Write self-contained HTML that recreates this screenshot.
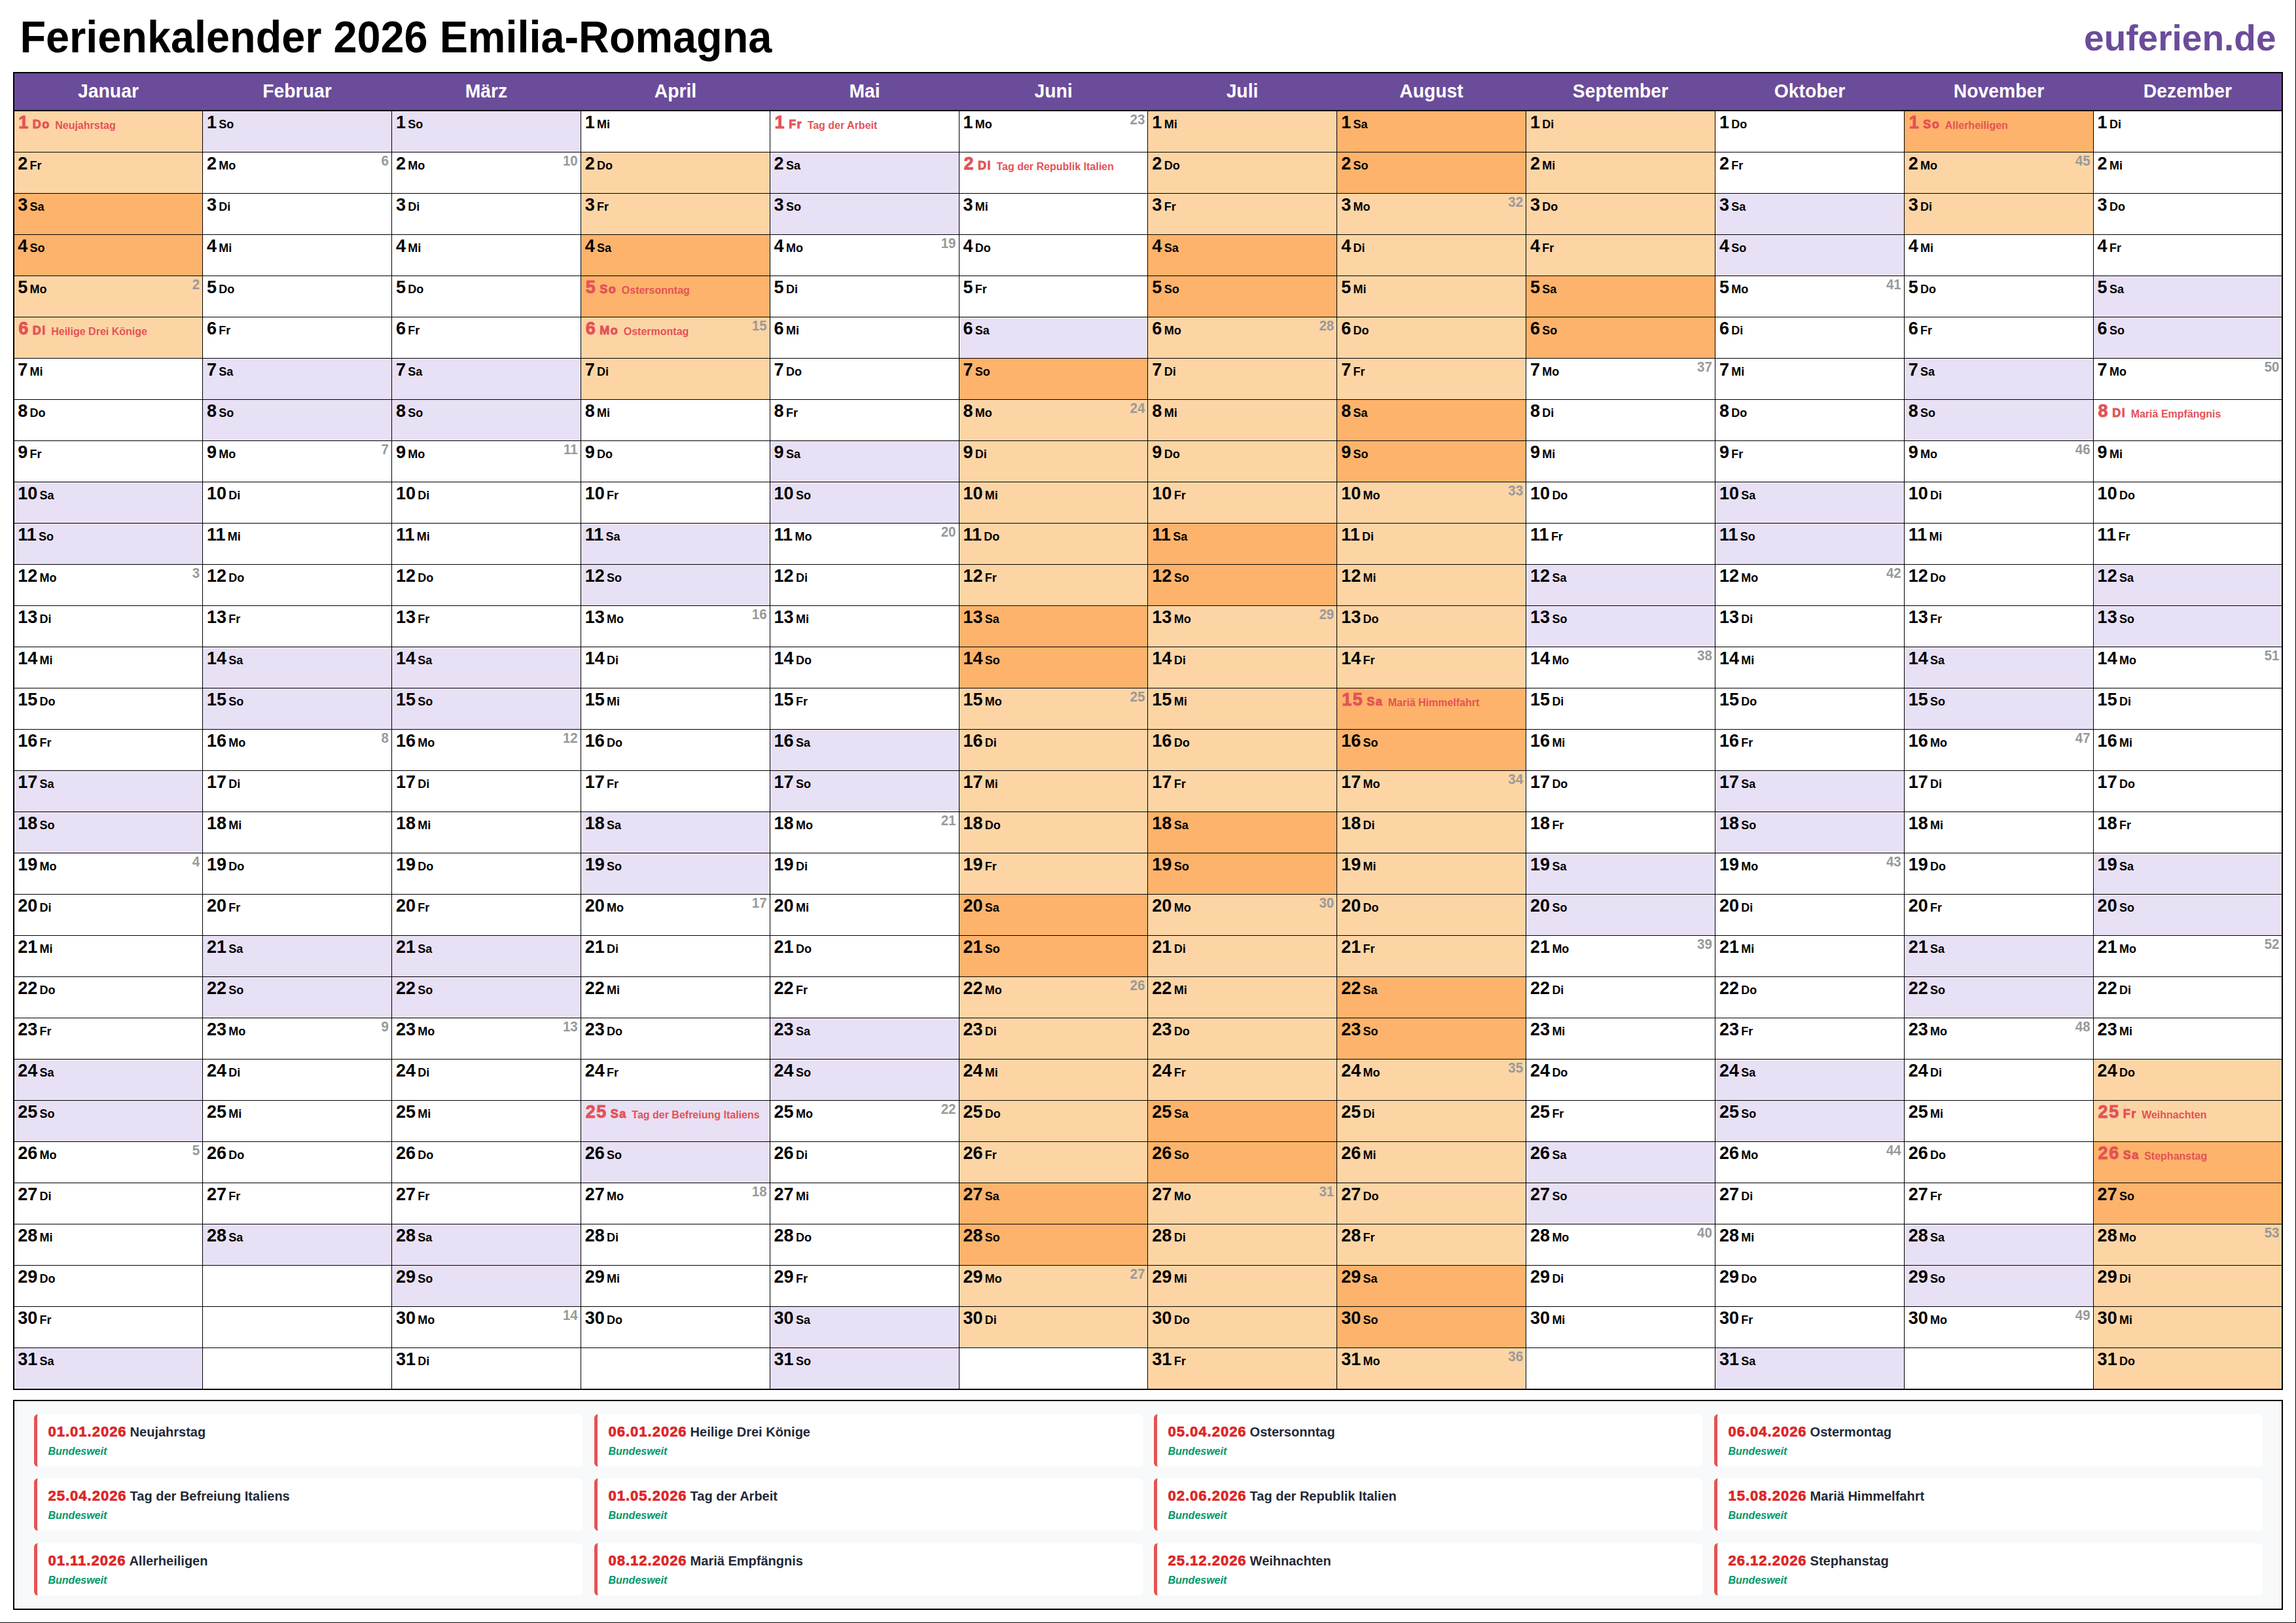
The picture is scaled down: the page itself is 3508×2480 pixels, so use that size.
<!DOCTYPE html><html><head><meta charset="utf-8"><title>Ferienkalender 2026 Emilia-Romagna</title><style>
*{margin:0;padding:0;box-sizing:border-box}
html,body{width:3508px;height:2480px;overflow:hidden;background:#fff;font-family:"Liberation Sans",sans-serif;font-weight:bold}
body{position:relative}
.a{position:absolute}
.t{position:absolute;white-space:nowrap;line-height:0}
.c{position:absolute;height:62px}
.r{font-size:27px}
.w{font-size:18px}
.h{color:#e45256}
.h .r,.h .w{-webkit-text-stroke:0.9px #e45256;letter-spacing:1.5px}
.hn{font-size:16px;position:relative;top:0.2px}
.k{position:absolute;white-space:nowrap;line-height:0;font-size:20.5px;color:#999999;transform:scaleY(1.06);transform-origin:50% 7.103px}
.m{position:absolute;white-space:nowrap;line-height:0;font-size:28.3px;color:#fff;text-align:center;transform:scaleY(1.055);transform-origin:50% 9.806px}
.lg{position:absolute;left:20px;top:2139px;width:3468px;height:321px;border:2px solid #000;background:#f8f9fa}
.cd{position:absolute;width:838px;height:80px;background:#fff;border-left:5.5px solid #e55353;border-radius:6px}
.cd .dt{position:absolute;left:16.5px;white-space:nowrap;line-height:0;font-size:22px}
.cd .dt b{color:#dc2626;letter-spacing:1px;-webkit-text-stroke:0.7px #dc2626}
.cd .dt i{font-style:normal;color:#1f2937;font-size:20px;margin-left:5px}
.cd .bw{position:absolute;left:16.5px;line-height:0;font-size:16px;font-style:italic;color:#059669;white-space:nowrap}

</style></head><body>
<div class="t" style="left:30.5px;top:57.35px;font-size:64.8px;color:#000;transform:scaleY(1.049);transform-origin:0 0">Ferienkalender 2026 Emilia-Romagna</div>
<div class="t" style="right:30.5px;top:57.94px;font-size:55px;color:#6b4c9a">euferien.de</div>
<div class="a" style="left:20px;top:110px;width:3468px;height:2014px;background:#000"></div>
<div class="a" style="left:22px;top:112px;width:3464px;height:56px;background:#6b4c9a"></div>
<div class="m" style="left:22px;width:287px;top:139.19px">Januar</div>
<div class="c" style="left:22px;top:170px;width:287px;background:#fdd5a5">
<div class="t h" style="left:6.16px;top:17.44px"><span class="r">1</span><span class="w" style="margin-left:5px">Do</span><span class="hn" style="margin-left:7.5px">Neujahrstag</span></div>
</div>
<div class="c" style="left:22px;top:233px;width:287px;background:#fdd5a5">
<div class="t" style="left:5.16px;top:16.64px"><span class="r">2</span><span class="w" style="margin-left:3.3px">Fr</span></div>
</div>
<div class="c" style="left:22px;top:296px;width:287px;background:#fdb36b">
<div class="t" style="left:5.16px;top:16.64px"><span class="r">3</span><span class="w" style="margin-left:3.3px">Sa</span></div>
</div>
<div class="c" style="left:22px;top:359px;width:287px;background:#fdb36b">
<div class="t" style="left:5.16px;top:16.64px"><span class="r">4</span><span class="w" style="margin-left:3.3px">So</span></div>
</div>
<div class="c" style="left:22px;top:422px;width:287px;background:#fdd5a5">
<div class="t" style="left:5.16px;top:16.64px"><span class="r">5</span><span class="w" style="margin-left:3.3px">Mo</span></div>
<div class="k" style="right:3.97px;top:12.9px">2</div>
</div>
<div class="c" style="left:22px;top:485px;width:287px;background:#fdd5a5">
<div class="t h" style="left:6.16px;top:17.44px"><span class="r">6</span><span class="w" style="margin-left:5px">Di</span><span class="hn" style="margin-left:7.5px">Heilige Drei Könige</span></div>
</div>
<div class="c" style="left:22px;top:548px;width:287px;background:#fff">
<div class="t" style="left:5.16px;top:16.64px"><span class="r">7</span><span class="w" style="margin-left:3.3px">Mi</span></div>
</div>
<div class="c" style="left:22px;top:611px;width:287px;background:#fff">
<div class="t" style="left:5.16px;top:16.64px"><span class="r">8</span><span class="w" style="margin-left:3.3px">Do</span></div>
</div>
<div class="c" style="left:22px;top:674px;width:287px;background:#fff">
<div class="t" style="left:5.16px;top:16.64px"><span class="r">9</span><span class="w" style="margin-left:3.3px">Fr</span></div>
</div>
<div class="c" style="left:22px;top:737px;width:287px;background:#e8e0f4">
<div class="t" style="left:5.16px;top:16.64px"><span class="r">10</span><span class="w" style="margin-left:3.3px">Sa</span></div>
</div>
<div class="c" style="left:22px;top:800px;width:287px;background:#e8e0f4">
<div class="t" style="left:5.16px;top:16.64px"><span class="r">11</span><span class="w" style="margin-left:3.3px">So</span></div>
</div>
<div class="c" style="left:22px;top:863px;width:287px;background:#fff">
<div class="t" style="left:5.16px;top:16.64px"><span class="r">12</span><span class="w" style="margin-left:3.3px">Mo</span></div>
<div class="k" style="right:3.97px;top:12.9px">3</div>
</div>
<div class="c" style="left:22px;top:926px;width:287px;background:#fff">
<div class="t" style="left:5.16px;top:16.64px"><span class="r">13</span><span class="w" style="margin-left:3.3px">Di</span></div>
</div>
<div class="c" style="left:22px;top:989px;width:287px;background:#fff">
<div class="t" style="left:5.16px;top:16.64px"><span class="r">14</span><span class="w" style="margin-left:3.3px">Mi</span></div>
</div>
<div class="c" style="left:22px;top:1052px;width:287px;background:#fff">
<div class="t" style="left:5.16px;top:16.64px"><span class="r">15</span><span class="w" style="margin-left:3.3px">Do</span></div>
</div>
<div class="c" style="left:22px;top:1115px;width:287px;background:#fff">
<div class="t" style="left:5.16px;top:16.64px"><span class="r">16</span><span class="w" style="margin-left:3.3px">Fr</span></div>
</div>
<div class="c" style="left:22px;top:1178px;width:287px;background:#e8e0f4">
<div class="t" style="left:5.16px;top:16.64px"><span class="r">17</span><span class="w" style="margin-left:3.3px">Sa</span></div>
</div>
<div class="c" style="left:22px;top:1241px;width:287px;background:#e8e0f4">
<div class="t" style="left:5.16px;top:16.64px"><span class="r">18</span><span class="w" style="margin-left:3.3px">So</span></div>
</div>
<div class="c" style="left:22px;top:1304px;width:287px;background:#fff">
<div class="t" style="left:5.16px;top:16.64px"><span class="r">19</span><span class="w" style="margin-left:3.3px">Mo</span></div>
<div class="k" style="right:3.97px;top:12.9px">4</div>
</div>
<div class="c" style="left:22px;top:1367px;width:287px;background:#fff">
<div class="t" style="left:5.16px;top:16.64px"><span class="r">20</span><span class="w" style="margin-left:3.3px">Di</span></div>
</div>
<div class="c" style="left:22px;top:1430px;width:287px;background:#fff">
<div class="t" style="left:5.16px;top:16.64px"><span class="r">21</span><span class="w" style="margin-left:3.3px">Mi</span></div>
</div>
<div class="c" style="left:22px;top:1493px;width:287px;background:#fff">
<div class="t" style="left:5.16px;top:16.64px"><span class="r">22</span><span class="w" style="margin-left:3.3px">Do</span></div>
</div>
<div class="c" style="left:22px;top:1556px;width:287px;background:#fff">
<div class="t" style="left:5.16px;top:16.64px"><span class="r">23</span><span class="w" style="margin-left:3.3px">Fr</span></div>
</div>
<div class="c" style="left:22px;top:1619px;width:287px;background:#e8e0f4">
<div class="t" style="left:5.16px;top:16.64px"><span class="r">24</span><span class="w" style="margin-left:3.3px">Sa</span></div>
</div>
<div class="c" style="left:22px;top:1682px;width:287px;background:#e8e0f4">
<div class="t" style="left:5.16px;top:16.64px"><span class="r">25</span><span class="w" style="margin-left:3.3px">So</span></div>
</div>
<div class="c" style="left:22px;top:1745px;width:287px;background:#fff">
<div class="t" style="left:5.16px;top:16.64px"><span class="r">26</span><span class="w" style="margin-left:3.3px">Mo</span></div>
<div class="k" style="right:3.97px;top:12.9px">5</div>
</div>
<div class="c" style="left:22px;top:1808px;width:287px;background:#fff">
<div class="t" style="left:5.16px;top:16.64px"><span class="r">27</span><span class="w" style="margin-left:3.3px">Di</span></div>
</div>
<div class="c" style="left:22px;top:1871px;width:287px;background:#fff">
<div class="t" style="left:5.16px;top:16.64px"><span class="r">28</span><span class="w" style="margin-left:3.3px">Mi</span></div>
</div>
<div class="c" style="left:22px;top:1934px;width:287px;background:#fff">
<div class="t" style="left:5.16px;top:16.64px"><span class="r">29</span><span class="w" style="margin-left:3.3px">Do</span></div>
</div>
<div class="c" style="left:22px;top:1997px;width:287px;background:#fff">
<div class="t" style="left:5.16px;top:16.64px"><span class="r">30</span><span class="w" style="margin-left:3.3px">Fr</span></div>
</div>
<div class="c" style="left:22px;top:2060px;width:287px;background:#e8e0f4">
<div class="t" style="left:5.16px;top:16.64px"><span class="r">31</span><span class="w" style="margin-left:3.3px">Sa</span></div>
</div>
<div class="m" style="left:310px;width:288px;top:139.19px">Februar</div>
<div class="c" style="left:310px;top:170px;width:288px;background:#e8e0f4">
<div class="t" style="left:6.02px;top:16.64px"><span class="r">1</span><span class="w" style="margin-left:3.3px">So</span></div>
</div>
<div class="c" style="left:310px;top:233px;width:288px;background:#fff">
<div class="t" style="left:6.02px;top:16.64px"><span class="r">2</span><span class="w" style="margin-left:3.3px">Mo</span></div>
<div class="k" style="right:4.11px;top:12.9px">6</div>
</div>
<div class="c" style="left:310px;top:296px;width:288px;background:#fff">
<div class="t" style="left:6.02px;top:16.64px"><span class="r">3</span><span class="w" style="margin-left:3.3px">Di</span></div>
</div>
<div class="c" style="left:310px;top:359px;width:288px;background:#fff">
<div class="t" style="left:6.02px;top:16.64px"><span class="r">4</span><span class="w" style="margin-left:3.3px">Mi</span></div>
</div>
<div class="c" style="left:310px;top:422px;width:288px;background:#fff">
<div class="t" style="left:6.02px;top:16.64px"><span class="r">5</span><span class="w" style="margin-left:3.3px">Do</span></div>
</div>
<div class="c" style="left:310px;top:485px;width:288px;background:#fff">
<div class="t" style="left:6.02px;top:16.64px"><span class="r">6</span><span class="w" style="margin-left:3.3px">Fr</span></div>
</div>
<div class="c" style="left:310px;top:548px;width:288px;background:#e8e0f4">
<div class="t" style="left:6.02px;top:16.64px"><span class="r">7</span><span class="w" style="margin-left:3.3px">Sa</span></div>
</div>
<div class="c" style="left:310px;top:611px;width:288px;background:#e8e0f4">
<div class="t" style="left:6.02px;top:16.64px"><span class="r">8</span><span class="w" style="margin-left:3.3px">So</span></div>
</div>
<div class="c" style="left:310px;top:674px;width:288px;background:#fff">
<div class="t" style="left:6.02px;top:16.64px"><span class="r">9</span><span class="w" style="margin-left:3.3px">Mo</span></div>
<div class="k" style="right:4.11px;top:12.9px">7</div>
</div>
<div class="c" style="left:310px;top:737px;width:288px;background:#fff">
<div class="t" style="left:6.02px;top:16.64px"><span class="r">10</span><span class="w" style="margin-left:3.3px">Di</span></div>
</div>
<div class="c" style="left:310px;top:800px;width:288px;background:#fff">
<div class="t" style="left:6.02px;top:16.64px"><span class="r">11</span><span class="w" style="margin-left:3.3px">Mi</span></div>
</div>
<div class="c" style="left:310px;top:863px;width:288px;background:#fff">
<div class="t" style="left:6.02px;top:16.64px"><span class="r">12</span><span class="w" style="margin-left:3.3px">Do</span></div>
</div>
<div class="c" style="left:310px;top:926px;width:288px;background:#fff">
<div class="t" style="left:6.02px;top:16.64px"><span class="r">13</span><span class="w" style="margin-left:3.3px">Fr</span></div>
</div>
<div class="c" style="left:310px;top:989px;width:288px;background:#e8e0f4">
<div class="t" style="left:6.02px;top:16.64px"><span class="r">14</span><span class="w" style="margin-left:3.3px">Sa</span></div>
</div>
<div class="c" style="left:310px;top:1052px;width:288px;background:#e8e0f4">
<div class="t" style="left:6.02px;top:16.64px"><span class="r">15</span><span class="w" style="margin-left:3.3px">So</span></div>
</div>
<div class="c" style="left:310px;top:1115px;width:288px;background:#fff">
<div class="t" style="left:6.02px;top:16.64px"><span class="r">16</span><span class="w" style="margin-left:3.3px">Mo</span></div>
<div class="k" style="right:4.11px;top:12.9px">8</div>
</div>
<div class="c" style="left:310px;top:1178px;width:288px;background:#fff">
<div class="t" style="left:6.02px;top:16.64px"><span class="r">17</span><span class="w" style="margin-left:3.3px">Di</span></div>
</div>
<div class="c" style="left:310px;top:1241px;width:288px;background:#fff">
<div class="t" style="left:6.02px;top:16.64px"><span class="r">18</span><span class="w" style="margin-left:3.3px">Mi</span></div>
</div>
<div class="c" style="left:310px;top:1304px;width:288px;background:#fff">
<div class="t" style="left:6.02px;top:16.64px"><span class="r">19</span><span class="w" style="margin-left:3.3px">Do</span></div>
</div>
<div class="c" style="left:310px;top:1367px;width:288px;background:#fff">
<div class="t" style="left:6.02px;top:16.64px"><span class="r">20</span><span class="w" style="margin-left:3.3px">Fr</span></div>
</div>
<div class="c" style="left:310px;top:1430px;width:288px;background:#e8e0f4">
<div class="t" style="left:6.02px;top:16.64px"><span class="r">21</span><span class="w" style="margin-left:3.3px">Sa</span></div>
</div>
<div class="c" style="left:310px;top:1493px;width:288px;background:#e8e0f4">
<div class="t" style="left:6.02px;top:16.64px"><span class="r">22</span><span class="w" style="margin-left:3.3px">So</span></div>
</div>
<div class="c" style="left:310px;top:1556px;width:288px;background:#fff">
<div class="t" style="left:6.02px;top:16.64px"><span class="r">23</span><span class="w" style="margin-left:3.3px">Mo</span></div>
<div class="k" style="right:4.11px;top:12.9px">9</div>
</div>
<div class="c" style="left:310px;top:1619px;width:288px;background:#fff">
<div class="t" style="left:6.02px;top:16.64px"><span class="r">24</span><span class="w" style="margin-left:3.3px">Di</span></div>
</div>
<div class="c" style="left:310px;top:1682px;width:288px;background:#fff">
<div class="t" style="left:6.02px;top:16.64px"><span class="r">25</span><span class="w" style="margin-left:3.3px">Mi</span></div>
</div>
<div class="c" style="left:310px;top:1745px;width:288px;background:#fff">
<div class="t" style="left:6.02px;top:16.64px"><span class="r">26</span><span class="w" style="margin-left:3.3px">Do</span></div>
</div>
<div class="c" style="left:310px;top:1808px;width:288px;background:#fff">
<div class="t" style="left:6.02px;top:16.64px"><span class="r">27</span><span class="w" style="margin-left:3.3px">Fr</span></div>
</div>
<div class="c" style="left:310px;top:1871px;width:288px;background:#e8e0f4">
<div class="t" style="left:6.02px;top:16.64px"><span class="r">28</span><span class="w" style="margin-left:3.3px">Sa</span></div>
</div>
<div class="c" style="left:310px;top:1934px;width:288px;background:#fff">
</div>
<div class="c" style="left:310px;top:1997px;width:288px;background:#fff">
</div>
<div class="c" style="left:310px;top:2060px;width:288px;background:#fff">
</div>
<div class="m" style="left:599px;width:288px;top:139.19px">März</div>
<div class="c" style="left:599px;top:170px;width:288px;background:#e8e0f4">
<div class="t" style="left:5.88px;top:16.64px"><span class="r">1</span><span class="w" style="margin-left:3.3px">So</span></div>
</div>
<div class="c" style="left:599px;top:233px;width:288px;background:#fff">
<div class="t" style="left:5.88px;top:16.64px"><span class="r">2</span><span class="w" style="margin-left:3.3px">Mo</span></div>
<div class="k" style="right:4.25px;top:12.9px">10</div>
</div>
<div class="c" style="left:599px;top:296px;width:288px;background:#fff">
<div class="t" style="left:5.88px;top:16.64px"><span class="r">3</span><span class="w" style="margin-left:3.3px">Di</span></div>
</div>
<div class="c" style="left:599px;top:359px;width:288px;background:#fff">
<div class="t" style="left:5.88px;top:16.64px"><span class="r">4</span><span class="w" style="margin-left:3.3px">Mi</span></div>
</div>
<div class="c" style="left:599px;top:422px;width:288px;background:#fff">
<div class="t" style="left:5.88px;top:16.64px"><span class="r">5</span><span class="w" style="margin-left:3.3px">Do</span></div>
</div>
<div class="c" style="left:599px;top:485px;width:288px;background:#fff">
<div class="t" style="left:5.88px;top:16.64px"><span class="r">6</span><span class="w" style="margin-left:3.3px">Fr</span></div>
</div>
<div class="c" style="left:599px;top:548px;width:288px;background:#e8e0f4">
<div class="t" style="left:5.88px;top:16.64px"><span class="r">7</span><span class="w" style="margin-left:3.3px">Sa</span></div>
</div>
<div class="c" style="left:599px;top:611px;width:288px;background:#e8e0f4">
<div class="t" style="left:5.88px;top:16.64px"><span class="r">8</span><span class="w" style="margin-left:3.3px">So</span></div>
</div>
<div class="c" style="left:599px;top:674px;width:288px;background:#fff">
<div class="t" style="left:5.88px;top:16.64px"><span class="r">9</span><span class="w" style="margin-left:3.3px">Mo</span></div>
<div class="k" style="right:4.25px;top:12.9px">11</div>
</div>
<div class="c" style="left:599px;top:737px;width:288px;background:#fff">
<div class="t" style="left:5.88px;top:16.64px"><span class="r">10</span><span class="w" style="margin-left:3.3px">Di</span></div>
</div>
<div class="c" style="left:599px;top:800px;width:288px;background:#fff">
<div class="t" style="left:5.88px;top:16.64px"><span class="r">11</span><span class="w" style="margin-left:3.3px">Mi</span></div>
</div>
<div class="c" style="left:599px;top:863px;width:288px;background:#fff">
<div class="t" style="left:5.88px;top:16.64px"><span class="r">12</span><span class="w" style="margin-left:3.3px">Do</span></div>
</div>
<div class="c" style="left:599px;top:926px;width:288px;background:#fff">
<div class="t" style="left:5.88px;top:16.64px"><span class="r">13</span><span class="w" style="margin-left:3.3px">Fr</span></div>
</div>
<div class="c" style="left:599px;top:989px;width:288px;background:#e8e0f4">
<div class="t" style="left:5.88px;top:16.64px"><span class="r">14</span><span class="w" style="margin-left:3.3px">Sa</span></div>
</div>
<div class="c" style="left:599px;top:1052px;width:288px;background:#e8e0f4">
<div class="t" style="left:5.88px;top:16.64px"><span class="r">15</span><span class="w" style="margin-left:3.3px">So</span></div>
</div>
<div class="c" style="left:599px;top:1115px;width:288px;background:#fff">
<div class="t" style="left:5.88px;top:16.64px"><span class="r">16</span><span class="w" style="margin-left:3.3px">Mo</span></div>
<div class="k" style="right:4.25px;top:12.9px">12</div>
</div>
<div class="c" style="left:599px;top:1178px;width:288px;background:#fff">
<div class="t" style="left:5.88px;top:16.64px"><span class="r">17</span><span class="w" style="margin-left:3.3px">Di</span></div>
</div>
<div class="c" style="left:599px;top:1241px;width:288px;background:#fff">
<div class="t" style="left:5.88px;top:16.64px"><span class="r">18</span><span class="w" style="margin-left:3.3px">Mi</span></div>
</div>
<div class="c" style="left:599px;top:1304px;width:288px;background:#fff">
<div class="t" style="left:5.88px;top:16.64px"><span class="r">19</span><span class="w" style="margin-left:3.3px">Do</span></div>
</div>
<div class="c" style="left:599px;top:1367px;width:288px;background:#fff">
<div class="t" style="left:5.88px;top:16.64px"><span class="r">20</span><span class="w" style="margin-left:3.3px">Fr</span></div>
</div>
<div class="c" style="left:599px;top:1430px;width:288px;background:#e8e0f4">
<div class="t" style="left:5.88px;top:16.64px"><span class="r">21</span><span class="w" style="margin-left:3.3px">Sa</span></div>
</div>
<div class="c" style="left:599px;top:1493px;width:288px;background:#e8e0f4">
<div class="t" style="left:5.88px;top:16.64px"><span class="r">22</span><span class="w" style="margin-left:3.3px">So</span></div>
</div>
<div class="c" style="left:599px;top:1556px;width:288px;background:#fff">
<div class="t" style="left:5.88px;top:16.64px"><span class="r">23</span><span class="w" style="margin-left:3.3px">Mo</span></div>
<div class="k" style="right:4.25px;top:12.9px">13</div>
</div>
<div class="c" style="left:599px;top:1619px;width:288px;background:#fff">
<div class="t" style="left:5.88px;top:16.64px"><span class="r">24</span><span class="w" style="margin-left:3.3px">Di</span></div>
</div>
<div class="c" style="left:599px;top:1682px;width:288px;background:#fff">
<div class="t" style="left:5.88px;top:16.64px"><span class="r">25</span><span class="w" style="margin-left:3.3px">Mi</span></div>
</div>
<div class="c" style="left:599px;top:1745px;width:288px;background:#fff">
<div class="t" style="left:5.88px;top:16.64px"><span class="r">26</span><span class="w" style="margin-left:3.3px">Do</span></div>
</div>
<div class="c" style="left:599px;top:1808px;width:288px;background:#fff">
<div class="t" style="left:5.88px;top:16.64px"><span class="r">27</span><span class="w" style="margin-left:3.3px">Fr</span></div>
</div>
<div class="c" style="left:599px;top:1871px;width:288px;background:#e8e0f4">
<div class="t" style="left:5.88px;top:16.64px"><span class="r">28</span><span class="w" style="margin-left:3.3px">Sa</span></div>
</div>
<div class="c" style="left:599px;top:1934px;width:288px;background:#e8e0f4">
<div class="t" style="left:5.88px;top:16.64px"><span class="r">29</span><span class="w" style="margin-left:3.3px">So</span></div>
</div>
<div class="c" style="left:599px;top:1997px;width:288px;background:#fff">
<div class="t" style="left:5.88px;top:16.64px"><span class="r">30</span><span class="w" style="margin-left:3.3px">Mo</span></div>
<div class="k" style="right:4.25px;top:12.9px">14</div>
</div>
<div class="c" style="left:599px;top:2060px;width:288px;background:#fff">
<div class="t" style="left:5.88px;top:16.64px"><span class="r">31</span><span class="w" style="margin-left:3.3px">Di</span></div>
</div>
<div class="m" style="left:888px;width:288px;top:139.19px">April</div>
<div class="c" style="left:888px;top:170px;width:288px;background:#fff">
<div class="t" style="left:5.74px;top:16.64px"><span class="r">1</span><span class="w" style="margin-left:3.3px">Mi</span></div>
</div>
<div class="c" style="left:888px;top:233px;width:288px;background:#fdd5a5">
<div class="t" style="left:5.74px;top:16.64px"><span class="r">2</span><span class="w" style="margin-left:3.3px">Do</span></div>
</div>
<div class="c" style="left:888px;top:296px;width:288px;background:#fdd5a5">
<div class="t" style="left:5.74px;top:16.64px"><span class="r">3</span><span class="w" style="margin-left:3.3px">Fr</span></div>
</div>
<div class="c" style="left:888px;top:359px;width:288px;background:#fdb36b">
<div class="t" style="left:5.74px;top:16.64px"><span class="r">4</span><span class="w" style="margin-left:3.3px">Sa</span></div>
</div>
<div class="c" style="left:888px;top:422px;width:288px;background:#fdb36b">
<div class="t h" style="left:6.74px;top:17.44px"><span class="r">5</span><span class="w" style="margin-left:5px">So</span><span class="hn" style="margin-left:7.5px">Ostersonntag</span></div>
</div>
<div class="c" style="left:888px;top:485px;width:288px;background:#fdd5a5">
<div class="t h" style="left:6.74px;top:17.44px"><span class="r">6</span><span class="w" style="margin-left:5px">Mo</span><span class="hn" style="margin-left:7.5px">Ostermontag</span></div>
<div class="k" style="right:4.39px;top:12.9px">15</div>
</div>
<div class="c" style="left:888px;top:548px;width:288px;background:#fdd5a5">
<div class="t" style="left:5.74px;top:16.64px"><span class="r">7</span><span class="w" style="margin-left:3.3px">Di</span></div>
</div>
<div class="c" style="left:888px;top:611px;width:288px;background:#fff">
<div class="t" style="left:5.74px;top:16.64px"><span class="r">8</span><span class="w" style="margin-left:3.3px">Mi</span></div>
</div>
<div class="c" style="left:888px;top:674px;width:288px;background:#fff">
<div class="t" style="left:5.74px;top:16.64px"><span class="r">9</span><span class="w" style="margin-left:3.3px">Do</span></div>
</div>
<div class="c" style="left:888px;top:737px;width:288px;background:#fff">
<div class="t" style="left:5.74px;top:16.64px"><span class="r">10</span><span class="w" style="margin-left:3.3px">Fr</span></div>
</div>
<div class="c" style="left:888px;top:800px;width:288px;background:#e8e0f4">
<div class="t" style="left:5.74px;top:16.64px"><span class="r">11</span><span class="w" style="margin-left:3.3px">Sa</span></div>
</div>
<div class="c" style="left:888px;top:863px;width:288px;background:#e8e0f4">
<div class="t" style="left:5.74px;top:16.64px"><span class="r">12</span><span class="w" style="margin-left:3.3px">So</span></div>
</div>
<div class="c" style="left:888px;top:926px;width:288px;background:#fff">
<div class="t" style="left:5.74px;top:16.64px"><span class="r">13</span><span class="w" style="margin-left:3.3px">Mo</span></div>
<div class="k" style="right:4.39px;top:12.9px">16</div>
</div>
<div class="c" style="left:888px;top:989px;width:288px;background:#fff">
<div class="t" style="left:5.74px;top:16.64px"><span class="r">14</span><span class="w" style="margin-left:3.3px">Di</span></div>
</div>
<div class="c" style="left:888px;top:1052px;width:288px;background:#fff">
<div class="t" style="left:5.74px;top:16.64px"><span class="r">15</span><span class="w" style="margin-left:3.3px">Mi</span></div>
</div>
<div class="c" style="left:888px;top:1115px;width:288px;background:#fff">
<div class="t" style="left:5.74px;top:16.64px"><span class="r">16</span><span class="w" style="margin-left:3.3px">Do</span></div>
</div>
<div class="c" style="left:888px;top:1178px;width:288px;background:#fff">
<div class="t" style="left:5.74px;top:16.64px"><span class="r">17</span><span class="w" style="margin-left:3.3px">Fr</span></div>
</div>
<div class="c" style="left:888px;top:1241px;width:288px;background:#e8e0f4">
<div class="t" style="left:5.74px;top:16.64px"><span class="r">18</span><span class="w" style="margin-left:3.3px">Sa</span></div>
</div>
<div class="c" style="left:888px;top:1304px;width:288px;background:#e8e0f4">
<div class="t" style="left:5.74px;top:16.64px"><span class="r">19</span><span class="w" style="margin-left:3.3px">So</span></div>
</div>
<div class="c" style="left:888px;top:1367px;width:288px;background:#fff">
<div class="t" style="left:5.74px;top:16.64px"><span class="r">20</span><span class="w" style="margin-left:3.3px">Mo</span></div>
<div class="k" style="right:4.39px;top:12.9px">17</div>
</div>
<div class="c" style="left:888px;top:1430px;width:288px;background:#fff">
<div class="t" style="left:5.74px;top:16.64px"><span class="r">21</span><span class="w" style="margin-left:3.3px">Di</span></div>
</div>
<div class="c" style="left:888px;top:1493px;width:288px;background:#fff">
<div class="t" style="left:5.74px;top:16.64px"><span class="r">22</span><span class="w" style="margin-left:3.3px">Mi</span></div>
</div>
<div class="c" style="left:888px;top:1556px;width:288px;background:#fff">
<div class="t" style="left:5.74px;top:16.64px"><span class="r">23</span><span class="w" style="margin-left:3.3px">Do</span></div>
</div>
<div class="c" style="left:888px;top:1619px;width:288px;background:#fff">
<div class="t" style="left:5.74px;top:16.64px"><span class="r">24</span><span class="w" style="margin-left:3.3px">Fr</span></div>
</div>
<div class="c" style="left:888px;top:1682px;width:288px;background:#e8e0f4">
<div class="t h" style="left:6.74px;top:17.44px"><span class="r">25</span><span class="w" style="margin-left:5px">Sa</span><span class="hn" style="margin-left:7.5px">Tag der Befreiung Italiens</span></div>
</div>
<div class="c" style="left:888px;top:1745px;width:288px;background:#e8e0f4">
<div class="t" style="left:5.74px;top:16.64px"><span class="r">26</span><span class="w" style="margin-left:3.3px">So</span></div>
</div>
<div class="c" style="left:888px;top:1808px;width:288px;background:#fff">
<div class="t" style="left:5.74px;top:16.64px"><span class="r">27</span><span class="w" style="margin-left:3.3px">Mo</span></div>
<div class="k" style="right:4.39px;top:12.9px">18</div>
</div>
<div class="c" style="left:888px;top:1871px;width:288px;background:#fff">
<div class="t" style="left:5.74px;top:16.64px"><span class="r">28</span><span class="w" style="margin-left:3.3px">Di</span></div>
</div>
<div class="c" style="left:888px;top:1934px;width:288px;background:#fff">
<div class="t" style="left:5.74px;top:16.64px"><span class="r">29</span><span class="w" style="margin-left:3.3px">Mi</span></div>
</div>
<div class="c" style="left:888px;top:1997px;width:288px;background:#fff">
<div class="t" style="left:5.74px;top:16.64px"><span class="r">30</span><span class="w" style="margin-left:3.3px">Do</span></div>
</div>
<div class="c" style="left:888px;top:2060px;width:288px;background:#fff">
</div>
<div class="m" style="left:1177px;width:288px;top:139.19px">Mai</div>
<div class="c" style="left:1177px;top:170px;width:288px;background:#fff">
<div class="t h" style="left:6.6px;top:17.44px"><span class="r">1</span><span class="w" style="margin-left:5px">Fr</span><span class="hn" style="margin-left:7.5px">Tag der Arbeit</span></div>
</div>
<div class="c" style="left:1177px;top:233px;width:288px;background:#e8e0f4">
<div class="t" style="left:5.6px;top:16.64px"><span class="r">2</span><span class="w" style="margin-left:3.3px">Sa</span></div>
</div>
<div class="c" style="left:1177px;top:296px;width:288px;background:#e8e0f4">
<div class="t" style="left:5.6px;top:16.64px"><span class="r">3</span><span class="w" style="margin-left:3.3px">So</span></div>
</div>
<div class="c" style="left:1177px;top:359px;width:288px;background:#fff">
<div class="t" style="left:5.6px;top:16.64px"><span class="r">4</span><span class="w" style="margin-left:3.3px">Mo</span></div>
<div class="k" style="right:4.53px;top:12.9px">19</div>
</div>
<div class="c" style="left:1177px;top:422px;width:288px;background:#fff">
<div class="t" style="left:5.6px;top:16.64px"><span class="r">5</span><span class="w" style="margin-left:3.3px">Di</span></div>
</div>
<div class="c" style="left:1177px;top:485px;width:288px;background:#fff">
<div class="t" style="left:5.6px;top:16.64px"><span class="r">6</span><span class="w" style="margin-left:3.3px">Mi</span></div>
</div>
<div class="c" style="left:1177px;top:548px;width:288px;background:#fff">
<div class="t" style="left:5.6px;top:16.64px"><span class="r">7</span><span class="w" style="margin-left:3.3px">Do</span></div>
</div>
<div class="c" style="left:1177px;top:611px;width:288px;background:#fff">
<div class="t" style="left:5.6px;top:16.64px"><span class="r">8</span><span class="w" style="margin-left:3.3px">Fr</span></div>
</div>
<div class="c" style="left:1177px;top:674px;width:288px;background:#e8e0f4">
<div class="t" style="left:5.6px;top:16.64px"><span class="r">9</span><span class="w" style="margin-left:3.3px">Sa</span></div>
</div>
<div class="c" style="left:1177px;top:737px;width:288px;background:#e8e0f4">
<div class="t" style="left:5.6px;top:16.64px"><span class="r">10</span><span class="w" style="margin-left:3.3px">So</span></div>
</div>
<div class="c" style="left:1177px;top:800px;width:288px;background:#fff">
<div class="t" style="left:5.6px;top:16.64px"><span class="r">11</span><span class="w" style="margin-left:3.3px">Mo</span></div>
<div class="k" style="right:4.53px;top:12.9px">20</div>
</div>
<div class="c" style="left:1177px;top:863px;width:288px;background:#fff">
<div class="t" style="left:5.6px;top:16.64px"><span class="r">12</span><span class="w" style="margin-left:3.3px">Di</span></div>
</div>
<div class="c" style="left:1177px;top:926px;width:288px;background:#fff">
<div class="t" style="left:5.6px;top:16.64px"><span class="r">13</span><span class="w" style="margin-left:3.3px">Mi</span></div>
</div>
<div class="c" style="left:1177px;top:989px;width:288px;background:#fff">
<div class="t" style="left:5.6px;top:16.64px"><span class="r">14</span><span class="w" style="margin-left:3.3px">Do</span></div>
</div>
<div class="c" style="left:1177px;top:1052px;width:288px;background:#fff">
<div class="t" style="left:5.6px;top:16.64px"><span class="r">15</span><span class="w" style="margin-left:3.3px">Fr</span></div>
</div>
<div class="c" style="left:1177px;top:1115px;width:288px;background:#e8e0f4">
<div class="t" style="left:5.6px;top:16.64px"><span class="r">16</span><span class="w" style="margin-left:3.3px">Sa</span></div>
</div>
<div class="c" style="left:1177px;top:1178px;width:288px;background:#e8e0f4">
<div class="t" style="left:5.6px;top:16.64px"><span class="r">17</span><span class="w" style="margin-left:3.3px">So</span></div>
</div>
<div class="c" style="left:1177px;top:1241px;width:288px;background:#fff">
<div class="t" style="left:5.6px;top:16.64px"><span class="r">18</span><span class="w" style="margin-left:3.3px">Mo</span></div>
<div class="k" style="right:4.53px;top:12.9px">21</div>
</div>
<div class="c" style="left:1177px;top:1304px;width:288px;background:#fff">
<div class="t" style="left:5.6px;top:16.64px"><span class="r">19</span><span class="w" style="margin-left:3.3px">Di</span></div>
</div>
<div class="c" style="left:1177px;top:1367px;width:288px;background:#fff">
<div class="t" style="left:5.6px;top:16.64px"><span class="r">20</span><span class="w" style="margin-left:3.3px">Mi</span></div>
</div>
<div class="c" style="left:1177px;top:1430px;width:288px;background:#fff">
<div class="t" style="left:5.6px;top:16.64px"><span class="r">21</span><span class="w" style="margin-left:3.3px">Do</span></div>
</div>
<div class="c" style="left:1177px;top:1493px;width:288px;background:#fff">
<div class="t" style="left:5.6px;top:16.64px"><span class="r">22</span><span class="w" style="margin-left:3.3px">Fr</span></div>
</div>
<div class="c" style="left:1177px;top:1556px;width:288px;background:#e8e0f4">
<div class="t" style="left:5.6px;top:16.64px"><span class="r">23</span><span class="w" style="margin-left:3.3px">Sa</span></div>
</div>
<div class="c" style="left:1177px;top:1619px;width:288px;background:#e8e0f4">
<div class="t" style="left:5.6px;top:16.64px"><span class="r">24</span><span class="w" style="margin-left:3.3px">So</span></div>
</div>
<div class="c" style="left:1177px;top:1682px;width:288px;background:#fff">
<div class="t" style="left:5.6px;top:16.64px"><span class="r">25</span><span class="w" style="margin-left:3.3px">Mo</span></div>
<div class="k" style="right:4.53px;top:12.9px">22</div>
</div>
<div class="c" style="left:1177px;top:1745px;width:288px;background:#fff">
<div class="t" style="left:5.6px;top:16.64px"><span class="r">26</span><span class="w" style="margin-left:3.3px">Di</span></div>
</div>
<div class="c" style="left:1177px;top:1808px;width:288px;background:#fff">
<div class="t" style="left:5.6px;top:16.64px"><span class="r">27</span><span class="w" style="margin-left:3.3px">Mi</span></div>
</div>
<div class="c" style="left:1177px;top:1871px;width:288px;background:#fff">
<div class="t" style="left:5.6px;top:16.64px"><span class="r">28</span><span class="w" style="margin-left:3.3px">Do</span></div>
</div>
<div class="c" style="left:1177px;top:1934px;width:288px;background:#fff">
<div class="t" style="left:5.6px;top:16.64px"><span class="r">29</span><span class="w" style="margin-left:3.3px">Fr</span></div>
</div>
<div class="c" style="left:1177px;top:1997px;width:288px;background:#e8e0f4">
<div class="t" style="left:5.6px;top:16.64px"><span class="r">30</span><span class="w" style="margin-left:3.3px">Sa</span></div>
</div>
<div class="c" style="left:1177px;top:2060px;width:288px;background:#e8e0f4">
<div class="t" style="left:5.6px;top:16.64px"><span class="r">31</span><span class="w" style="margin-left:3.3px">So</span></div>
</div>
<div class="m" style="left:1466px;width:287px;top:139.19px">Juni</div>
<div class="c" style="left:1466px;top:170px;width:287px;background:#fff">
<div class="t" style="left:5.46px;top:16.64px"><span class="r">1</span><span class="w" style="margin-left:3.3px">Mo</span></div>
<div class="k" style="right:3.67px;top:12.9px">23</div>
</div>
<div class="c" style="left:1466px;top:233px;width:287px;background:#fff">
<div class="t h" style="left:6.46px;top:17.44px"><span class="r">2</span><span class="w" style="margin-left:5px">Di</span><span class="hn" style="margin-left:7.5px">Tag der Republik Italien</span></div>
</div>
<div class="c" style="left:1466px;top:296px;width:287px;background:#fff">
<div class="t" style="left:5.46px;top:16.64px"><span class="r">3</span><span class="w" style="margin-left:3.3px">Mi</span></div>
</div>
<div class="c" style="left:1466px;top:359px;width:287px;background:#fff">
<div class="t" style="left:5.46px;top:16.64px"><span class="r">4</span><span class="w" style="margin-left:3.3px">Do</span></div>
</div>
<div class="c" style="left:1466px;top:422px;width:287px;background:#fff">
<div class="t" style="left:5.46px;top:16.64px"><span class="r">5</span><span class="w" style="margin-left:3.3px">Fr</span></div>
</div>
<div class="c" style="left:1466px;top:485px;width:287px;background:#e8e0f4">
<div class="t" style="left:5.46px;top:16.64px"><span class="r">6</span><span class="w" style="margin-left:3.3px">Sa</span></div>
</div>
<div class="c" style="left:1466px;top:548px;width:287px;background:#fdb36b">
<div class="t" style="left:5.46px;top:16.64px"><span class="r">7</span><span class="w" style="margin-left:3.3px">So</span></div>
</div>
<div class="c" style="left:1466px;top:611px;width:287px;background:#fdd5a5">
<div class="t" style="left:5.46px;top:16.64px"><span class="r">8</span><span class="w" style="margin-left:3.3px">Mo</span></div>
<div class="k" style="right:3.67px;top:12.9px">24</div>
</div>
<div class="c" style="left:1466px;top:674px;width:287px;background:#fdd5a5">
<div class="t" style="left:5.46px;top:16.64px"><span class="r">9</span><span class="w" style="margin-left:3.3px">Di</span></div>
</div>
<div class="c" style="left:1466px;top:737px;width:287px;background:#fdd5a5">
<div class="t" style="left:5.46px;top:16.64px"><span class="r">10</span><span class="w" style="margin-left:3.3px">Mi</span></div>
</div>
<div class="c" style="left:1466px;top:800px;width:287px;background:#fdd5a5">
<div class="t" style="left:5.46px;top:16.64px"><span class="r">11</span><span class="w" style="margin-left:3.3px">Do</span></div>
</div>
<div class="c" style="left:1466px;top:863px;width:287px;background:#fdd5a5">
<div class="t" style="left:5.46px;top:16.64px"><span class="r">12</span><span class="w" style="margin-left:3.3px">Fr</span></div>
</div>
<div class="c" style="left:1466px;top:926px;width:287px;background:#fdb36b">
<div class="t" style="left:5.46px;top:16.64px"><span class="r">13</span><span class="w" style="margin-left:3.3px">Sa</span></div>
</div>
<div class="c" style="left:1466px;top:989px;width:287px;background:#fdb36b">
<div class="t" style="left:5.46px;top:16.64px"><span class="r">14</span><span class="w" style="margin-left:3.3px">So</span></div>
</div>
<div class="c" style="left:1466px;top:1052px;width:287px;background:#fdd5a5">
<div class="t" style="left:5.46px;top:16.64px"><span class="r">15</span><span class="w" style="margin-left:3.3px">Mo</span></div>
<div class="k" style="right:3.67px;top:12.9px">25</div>
</div>
<div class="c" style="left:1466px;top:1115px;width:287px;background:#fdd5a5">
<div class="t" style="left:5.46px;top:16.64px"><span class="r">16</span><span class="w" style="margin-left:3.3px">Di</span></div>
</div>
<div class="c" style="left:1466px;top:1178px;width:287px;background:#fdd5a5">
<div class="t" style="left:5.46px;top:16.64px"><span class="r">17</span><span class="w" style="margin-left:3.3px">Mi</span></div>
</div>
<div class="c" style="left:1466px;top:1241px;width:287px;background:#fdd5a5">
<div class="t" style="left:5.46px;top:16.64px"><span class="r">18</span><span class="w" style="margin-left:3.3px">Do</span></div>
</div>
<div class="c" style="left:1466px;top:1304px;width:287px;background:#fdd5a5">
<div class="t" style="left:5.46px;top:16.64px"><span class="r">19</span><span class="w" style="margin-left:3.3px">Fr</span></div>
</div>
<div class="c" style="left:1466px;top:1367px;width:287px;background:#fdb36b">
<div class="t" style="left:5.46px;top:16.64px"><span class="r">20</span><span class="w" style="margin-left:3.3px">Sa</span></div>
</div>
<div class="c" style="left:1466px;top:1430px;width:287px;background:#fdb36b">
<div class="t" style="left:5.46px;top:16.64px"><span class="r">21</span><span class="w" style="margin-left:3.3px">So</span></div>
</div>
<div class="c" style="left:1466px;top:1493px;width:287px;background:#fdd5a5">
<div class="t" style="left:5.46px;top:16.64px"><span class="r">22</span><span class="w" style="margin-left:3.3px">Mo</span></div>
<div class="k" style="right:3.67px;top:12.9px">26</div>
</div>
<div class="c" style="left:1466px;top:1556px;width:287px;background:#fdd5a5">
<div class="t" style="left:5.46px;top:16.64px"><span class="r">23</span><span class="w" style="margin-left:3.3px">Di</span></div>
</div>
<div class="c" style="left:1466px;top:1619px;width:287px;background:#fdd5a5">
<div class="t" style="left:5.46px;top:16.64px"><span class="r">24</span><span class="w" style="margin-left:3.3px">Mi</span></div>
</div>
<div class="c" style="left:1466px;top:1682px;width:287px;background:#fdd5a5">
<div class="t" style="left:5.46px;top:16.64px"><span class="r">25</span><span class="w" style="margin-left:3.3px">Do</span></div>
</div>
<div class="c" style="left:1466px;top:1745px;width:287px;background:#fdd5a5">
<div class="t" style="left:5.46px;top:16.64px"><span class="r">26</span><span class="w" style="margin-left:3.3px">Fr</span></div>
</div>
<div class="c" style="left:1466px;top:1808px;width:287px;background:#fdb36b">
<div class="t" style="left:5.46px;top:16.64px"><span class="r">27</span><span class="w" style="margin-left:3.3px">Sa</span></div>
</div>
<div class="c" style="left:1466px;top:1871px;width:287px;background:#fdb36b">
<div class="t" style="left:5.46px;top:16.64px"><span class="r">28</span><span class="w" style="margin-left:3.3px">So</span></div>
</div>
<div class="c" style="left:1466px;top:1934px;width:287px;background:#fdd5a5">
<div class="t" style="left:5.46px;top:16.64px"><span class="r">29</span><span class="w" style="margin-left:3.3px">Mo</span></div>
<div class="k" style="right:3.67px;top:12.9px">27</div>
</div>
<div class="c" style="left:1466px;top:1997px;width:287px;background:#fdd5a5">
<div class="t" style="left:5.46px;top:16.64px"><span class="r">30</span><span class="w" style="margin-left:3.3px">Di</span></div>
</div>
<div class="c" style="left:1466px;top:2060px;width:287px;background:#fff">
</div>
<div class="m" style="left:1754px;width:288px;top:139.19px">Juli</div>
<div class="c" style="left:1754px;top:170px;width:288px;background:#fdd5a5">
<div class="t" style="left:6.32px;top:16.64px"><span class="r">1</span><span class="w" style="margin-left:3.3px">Mi</span></div>
</div>
<div class="c" style="left:1754px;top:233px;width:288px;background:#fdd5a5">
<div class="t" style="left:6.32px;top:16.64px"><span class="r">2</span><span class="w" style="margin-left:3.3px">Do</span></div>
</div>
<div class="c" style="left:1754px;top:296px;width:288px;background:#fdd5a5">
<div class="t" style="left:6.32px;top:16.64px"><span class="r">3</span><span class="w" style="margin-left:3.3px">Fr</span></div>
</div>
<div class="c" style="left:1754px;top:359px;width:288px;background:#fdb36b">
<div class="t" style="left:6.32px;top:16.64px"><span class="r">4</span><span class="w" style="margin-left:3.3px">Sa</span></div>
</div>
<div class="c" style="left:1754px;top:422px;width:288px;background:#fdb36b">
<div class="t" style="left:6.32px;top:16.64px"><span class="r">5</span><span class="w" style="margin-left:3.3px">So</span></div>
</div>
<div class="c" style="left:1754px;top:485px;width:288px;background:#fdd5a5">
<div class="t" style="left:6.32px;top:16.64px"><span class="r">6</span><span class="w" style="margin-left:3.3px">Mo</span></div>
<div class="k" style="right:3.81px;top:12.9px">28</div>
</div>
<div class="c" style="left:1754px;top:548px;width:288px;background:#fdd5a5">
<div class="t" style="left:6.32px;top:16.64px"><span class="r">7</span><span class="w" style="margin-left:3.3px">Di</span></div>
</div>
<div class="c" style="left:1754px;top:611px;width:288px;background:#fdd5a5">
<div class="t" style="left:6.32px;top:16.64px"><span class="r">8</span><span class="w" style="margin-left:3.3px">Mi</span></div>
</div>
<div class="c" style="left:1754px;top:674px;width:288px;background:#fdd5a5">
<div class="t" style="left:6.32px;top:16.64px"><span class="r">9</span><span class="w" style="margin-left:3.3px">Do</span></div>
</div>
<div class="c" style="left:1754px;top:737px;width:288px;background:#fdd5a5">
<div class="t" style="left:6.32px;top:16.64px"><span class="r">10</span><span class="w" style="margin-left:3.3px">Fr</span></div>
</div>
<div class="c" style="left:1754px;top:800px;width:288px;background:#fdb36b">
<div class="t" style="left:6.32px;top:16.64px"><span class="r">11</span><span class="w" style="margin-left:3.3px">Sa</span></div>
</div>
<div class="c" style="left:1754px;top:863px;width:288px;background:#fdb36b">
<div class="t" style="left:6.32px;top:16.64px"><span class="r">12</span><span class="w" style="margin-left:3.3px">So</span></div>
</div>
<div class="c" style="left:1754px;top:926px;width:288px;background:#fdd5a5">
<div class="t" style="left:6.32px;top:16.64px"><span class="r">13</span><span class="w" style="margin-left:3.3px">Mo</span></div>
<div class="k" style="right:3.81px;top:12.9px">29</div>
</div>
<div class="c" style="left:1754px;top:989px;width:288px;background:#fdd5a5">
<div class="t" style="left:6.32px;top:16.64px"><span class="r">14</span><span class="w" style="margin-left:3.3px">Di</span></div>
</div>
<div class="c" style="left:1754px;top:1052px;width:288px;background:#fdd5a5">
<div class="t" style="left:6.32px;top:16.64px"><span class="r">15</span><span class="w" style="margin-left:3.3px">Mi</span></div>
</div>
<div class="c" style="left:1754px;top:1115px;width:288px;background:#fdd5a5">
<div class="t" style="left:6.32px;top:16.64px"><span class="r">16</span><span class="w" style="margin-left:3.3px">Do</span></div>
</div>
<div class="c" style="left:1754px;top:1178px;width:288px;background:#fdd5a5">
<div class="t" style="left:6.32px;top:16.64px"><span class="r">17</span><span class="w" style="margin-left:3.3px">Fr</span></div>
</div>
<div class="c" style="left:1754px;top:1241px;width:288px;background:#fdb36b">
<div class="t" style="left:6.32px;top:16.64px"><span class="r">18</span><span class="w" style="margin-left:3.3px">Sa</span></div>
</div>
<div class="c" style="left:1754px;top:1304px;width:288px;background:#fdb36b">
<div class="t" style="left:6.32px;top:16.64px"><span class="r">19</span><span class="w" style="margin-left:3.3px">So</span></div>
</div>
<div class="c" style="left:1754px;top:1367px;width:288px;background:#fdd5a5">
<div class="t" style="left:6.32px;top:16.64px"><span class="r">20</span><span class="w" style="margin-left:3.3px">Mo</span></div>
<div class="k" style="right:3.81px;top:12.9px">30</div>
</div>
<div class="c" style="left:1754px;top:1430px;width:288px;background:#fdd5a5">
<div class="t" style="left:6.32px;top:16.64px"><span class="r">21</span><span class="w" style="margin-left:3.3px">Di</span></div>
</div>
<div class="c" style="left:1754px;top:1493px;width:288px;background:#fdd5a5">
<div class="t" style="left:6.32px;top:16.64px"><span class="r">22</span><span class="w" style="margin-left:3.3px">Mi</span></div>
</div>
<div class="c" style="left:1754px;top:1556px;width:288px;background:#fdd5a5">
<div class="t" style="left:6.32px;top:16.64px"><span class="r">23</span><span class="w" style="margin-left:3.3px">Do</span></div>
</div>
<div class="c" style="left:1754px;top:1619px;width:288px;background:#fdd5a5">
<div class="t" style="left:6.32px;top:16.64px"><span class="r">24</span><span class="w" style="margin-left:3.3px">Fr</span></div>
</div>
<div class="c" style="left:1754px;top:1682px;width:288px;background:#fdb36b">
<div class="t" style="left:6.32px;top:16.64px"><span class="r">25</span><span class="w" style="margin-left:3.3px">Sa</span></div>
</div>
<div class="c" style="left:1754px;top:1745px;width:288px;background:#fdb36b">
<div class="t" style="left:6.32px;top:16.64px"><span class="r">26</span><span class="w" style="margin-left:3.3px">So</span></div>
</div>
<div class="c" style="left:1754px;top:1808px;width:288px;background:#fdd5a5">
<div class="t" style="left:6.32px;top:16.64px"><span class="r">27</span><span class="w" style="margin-left:3.3px">Mo</span></div>
<div class="k" style="right:3.81px;top:12.9px">31</div>
</div>
<div class="c" style="left:1754px;top:1871px;width:288px;background:#fdd5a5">
<div class="t" style="left:6.32px;top:16.64px"><span class="r">28</span><span class="w" style="margin-left:3.3px">Di</span></div>
</div>
<div class="c" style="left:1754px;top:1934px;width:288px;background:#fdd5a5">
<div class="t" style="left:6.32px;top:16.64px"><span class="r">29</span><span class="w" style="margin-left:3.3px">Mi</span></div>
</div>
<div class="c" style="left:1754px;top:1997px;width:288px;background:#fdd5a5">
<div class="t" style="left:6.32px;top:16.64px"><span class="r">30</span><span class="w" style="margin-left:3.3px">Do</span></div>
</div>
<div class="c" style="left:1754px;top:2060px;width:288px;background:#fdd5a5">
<div class="t" style="left:6.32px;top:16.64px"><span class="r">31</span><span class="w" style="margin-left:3.3px">Fr</span></div>
</div>
<div class="m" style="left:2043px;width:288px;top:139.19px">August</div>
<div class="c" style="left:2043px;top:170px;width:288px;background:#fdb36b">
<div class="t" style="left:6.18px;top:16.64px"><span class="r">1</span><span class="w" style="margin-left:3.3px">Sa</span></div>
</div>
<div class="c" style="left:2043px;top:233px;width:288px;background:#fdb36b">
<div class="t" style="left:6.18px;top:16.64px"><span class="r">2</span><span class="w" style="margin-left:3.3px">So</span></div>
</div>
<div class="c" style="left:2043px;top:296px;width:288px;background:#fdd5a5">
<div class="t" style="left:6.18px;top:16.64px"><span class="r">3</span><span class="w" style="margin-left:3.3px">Mo</span></div>
<div class="k" style="right:3.95px;top:12.9px">32</div>
</div>
<div class="c" style="left:2043px;top:359px;width:288px;background:#fdd5a5">
<div class="t" style="left:6.18px;top:16.64px"><span class="r">4</span><span class="w" style="margin-left:3.3px">Di</span></div>
</div>
<div class="c" style="left:2043px;top:422px;width:288px;background:#fdd5a5">
<div class="t" style="left:6.18px;top:16.64px"><span class="r">5</span><span class="w" style="margin-left:3.3px">Mi</span></div>
</div>
<div class="c" style="left:2043px;top:485px;width:288px;background:#fdd5a5">
<div class="t" style="left:6.18px;top:16.64px"><span class="r">6</span><span class="w" style="margin-left:3.3px">Do</span></div>
</div>
<div class="c" style="left:2043px;top:548px;width:288px;background:#fdd5a5">
<div class="t" style="left:6.18px;top:16.64px"><span class="r">7</span><span class="w" style="margin-left:3.3px">Fr</span></div>
</div>
<div class="c" style="left:2043px;top:611px;width:288px;background:#fdb36b">
<div class="t" style="left:6.18px;top:16.64px"><span class="r">8</span><span class="w" style="margin-left:3.3px">Sa</span></div>
</div>
<div class="c" style="left:2043px;top:674px;width:288px;background:#fdb36b">
<div class="t" style="left:6.18px;top:16.64px"><span class="r">9</span><span class="w" style="margin-left:3.3px">So</span></div>
</div>
<div class="c" style="left:2043px;top:737px;width:288px;background:#fdd5a5">
<div class="t" style="left:6.18px;top:16.64px"><span class="r">10</span><span class="w" style="margin-left:3.3px">Mo</span></div>
<div class="k" style="right:3.95px;top:12.9px">33</div>
</div>
<div class="c" style="left:2043px;top:800px;width:288px;background:#fdd5a5">
<div class="t" style="left:6.18px;top:16.64px"><span class="r">11</span><span class="w" style="margin-left:3.3px">Di</span></div>
</div>
<div class="c" style="left:2043px;top:863px;width:288px;background:#fdd5a5">
<div class="t" style="left:6.18px;top:16.64px"><span class="r">12</span><span class="w" style="margin-left:3.3px">Mi</span></div>
</div>
<div class="c" style="left:2043px;top:926px;width:288px;background:#fdd5a5">
<div class="t" style="left:6.18px;top:16.64px"><span class="r">13</span><span class="w" style="margin-left:3.3px">Do</span></div>
</div>
<div class="c" style="left:2043px;top:989px;width:288px;background:#fdd5a5">
<div class="t" style="left:6.18px;top:16.64px"><span class="r">14</span><span class="w" style="margin-left:3.3px">Fr</span></div>
</div>
<div class="c" style="left:2043px;top:1052px;width:288px;background:#fdb36b">
<div class="t h" style="left:7.18px;top:17.44px"><span class="r">15</span><span class="w" style="margin-left:5px">Sa</span><span class="hn" style="margin-left:7.5px">Mariä Himmelfahrt</span></div>
</div>
<div class="c" style="left:2043px;top:1115px;width:288px;background:#fdb36b">
<div class="t" style="left:6.18px;top:16.64px"><span class="r">16</span><span class="w" style="margin-left:3.3px">So</span></div>
</div>
<div class="c" style="left:2043px;top:1178px;width:288px;background:#fdd5a5">
<div class="t" style="left:6.18px;top:16.64px"><span class="r">17</span><span class="w" style="margin-left:3.3px">Mo</span></div>
<div class="k" style="right:3.95px;top:12.9px">34</div>
</div>
<div class="c" style="left:2043px;top:1241px;width:288px;background:#fdd5a5">
<div class="t" style="left:6.18px;top:16.64px"><span class="r">18</span><span class="w" style="margin-left:3.3px">Di</span></div>
</div>
<div class="c" style="left:2043px;top:1304px;width:288px;background:#fdd5a5">
<div class="t" style="left:6.18px;top:16.64px"><span class="r">19</span><span class="w" style="margin-left:3.3px">Mi</span></div>
</div>
<div class="c" style="left:2043px;top:1367px;width:288px;background:#fdd5a5">
<div class="t" style="left:6.18px;top:16.64px"><span class="r">20</span><span class="w" style="margin-left:3.3px">Do</span></div>
</div>
<div class="c" style="left:2043px;top:1430px;width:288px;background:#fdd5a5">
<div class="t" style="left:6.18px;top:16.64px"><span class="r">21</span><span class="w" style="margin-left:3.3px">Fr</span></div>
</div>
<div class="c" style="left:2043px;top:1493px;width:288px;background:#fdb36b">
<div class="t" style="left:6.18px;top:16.64px"><span class="r">22</span><span class="w" style="margin-left:3.3px">Sa</span></div>
</div>
<div class="c" style="left:2043px;top:1556px;width:288px;background:#fdb36b">
<div class="t" style="left:6.18px;top:16.64px"><span class="r">23</span><span class="w" style="margin-left:3.3px">So</span></div>
</div>
<div class="c" style="left:2043px;top:1619px;width:288px;background:#fdd5a5">
<div class="t" style="left:6.18px;top:16.64px"><span class="r">24</span><span class="w" style="margin-left:3.3px">Mo</span></div>
<div class="k" style="right:3.95px;top:12.9px">35</div>
</div>
<div class="c" style="left:2043px;top:1682px;width:288px;background:#fdd5a5">
<div class="t" style="left:6.18px;top:16.64px"><span class="r">25</span><span class="w" style="margin-left:3.3px">Di</span></div>
</div>
<div class="c" style="left:2043px;top:1745px;width:288px;background:#fdd5a5">
<div class="t" style="left:6.18px;top:16.64px"><span class="r">26</span><span class="w" style="margin-left:3.3px">Mi</span></div>
</div>
<div class="c" style="left:2043px;top:1808px;width:288px;background:#fdd5a5">
<div class="t" style="left:6.18px;top:16.64px"><span class="r">27</span><span class="w" style="margin-left:3.3px">Do</span></div>
</div>
<div class="c" style="left:2043px;top:1871px;width:288px;background:#fdd5a5">
<div class="t" style="left:6.18px;top:16.64px"><span class="r">28</span><span class="w" style="margin-left:3.3px">Fr</span></div>
</div>
<div class="c" style="left:2043px;top:1934px;width:288px;background:#fdb36b">
<div class="t" style="left:6.18px;top:16.64px"><span class="r">29</span><span class="w" style="margin-left:3.3px">Sa</span></div>
</div>
<div class="c" style="left:2043px;top:1997px;width:288px;background:#fdb36b">
<div class="t" style="left:6.18px;top:16.64px"><span class="r">30</span><span class="w" style="margin-left:3.3px">So</span></div>
</div>
<div class="c" style="left:2043px;top:2060px;width:288px;background:#fdd5a5">
<div class="t" style="left:6.18px;top:16.64px"><span class="r">31</span><span class="w" style="margin-left:3.3px">Mo</span></div>
<div class="k" style="right:3.95px;top:12.9px">36</div>
</div>
<div class="m" style="left:2332px;width:288px;top:139.19px">September</div>
<div class="c" style="left:2332px;top:170px;width:288px;background:#fdd5a5">
<div class="t" style="left:6.04px;top:16.64px"><span class="r">1</span><span class="w" style="margin-left:3.3px">Di</span></div>
</div>
<div class="c" style="left:2332px;top:233px;width:288px;background:#fdd5a5">
<div class="t" style="left:6.04px;top:16.64px"><span class="r">2</span><span class="w" style="margin-left:3.3px">Mi</span></div>
</div>
<div class="c" style="left:2332px;top:296px;width:288px;background:#fdd5a5">
<div class="t" style="left:6.04px;top:16.64px"><span class="r">3</span><span class="w" style="margin-left:3.3px">Do</span></div>
</div>
<div class="c" style="left:2332px;top:359px;width:288px;background:#fdd5a5">
<div class="t" style="left:6.04px;top:16.64px"><span class="r">4</span><span class="w" style="margin-left:3.3px">Fr</span></div>
</div>
<div class="c" style="left:2332px;top:422px;width:288px;background:#fdb36b">
<div class="t" style="left:6.04px;top:16.64px"><span class="r">5</span><span class="w" style="margin-left:3.3px">Sa</span></div>
</div>
<div class="c" style="left:2332px;top:485px;width:288px;background:#fdb36b">
<div class="t" style="left:6.04px;top:16.64px"><span class="r">6</span><span class="w" style="margin-left:3.3px">So</span></div>
</div>
<div class="c" style="left:2332px;top:548px;width:288px;background:#fff">
<div class="t" style="left:6.04px;top:16.64px"><span class="r">7</span><span class="w" style="margin-left:3.3px">Mo</span></div>
<div class="k" style="right:4.09px;top:12.9px">37</div>
</div>
<div class="c" style="left:2332px;top:611px;width:288px;background:#fff">
<div class="t" style="left:6.04px;top:16.64px"><span class="r">8</span><span class="w" style="margin-left:3.3px">Di</span></div>
</div>
<div class="c" style="left:2332px;top:674px;width:288px;background:#fff">
<div class="t" style="left:6.04px;top:16.64px"><span class="r">9</span><span class="w" style="margin-left:3.3px">Mi</span></div>
</div>
<div class="c" style="left:2332px;top:737px;width:288px;background:#fff">
<div class="t" style="left:6.04px;top:16.64px"><span class="r">10</span><span class="w" style="margin-left:3.3px">Do</span></div>
</div>
<div class="c" style="left:2332px;top:800px;width:288px;background:#fff">
<div class="t" style="left:6.04px;top:16.64px"><span class="r">11</span><span class="w" style="margin-left:3.3px">Fr</span></div>
</div>
<div class="c" style="left:2332px;top:863px;width:288px;background:#e8e0f4">
<div class="t" style="left:6.04px;top:16.64px"><span class="r">12</span><span class="w" style="margin-left:3.3px">Sa</span></div>
</div>
<div class="c" style="left:2332px;top:926px;width:288px;background:#e8e0f4">
<div class="t" style="left:6.04px;top:16.64px"><span class="r">13</span><span class="w" style="margin-left:3.3px">So</span></div>
</div>
<div class="c" style="left:2332px;top:989px;width:288px;background:#fff">
<div class="t" style="left:6.04px;top:16.64px"><span class="r">14</span><span class="w" style="margin-left:3.3px">Mo</span></div>
<div class="k" style="right:4.09px;top:12.9px">38</div>
</div>
<div class="c" style="left:2332px;top:1052px;width:288px;background:#fff">
<div class="t" style="left:6.04px;top:16.64px"><span class="r">15</span><span class="w" style="margin-left:3.3px">Di</span></div>
</div>
<div class="c" style="left:2332px;top:1115px;width:288px;background:#fff">
<div class="t" style="left:6.04px;top:16.64px"><span class="r">16</span><span class="w" style="margin-left:3.3px">Mi</span></div>
</div>
<div class="c" style="left:2332px;top:1178px;width:288px;background:#fff">
<div class="t" style="left:6.04px;top:16.64px"><span class="r">17</span><span class="w" style="margin-left:3.3px">Do</span></div>
</div>
<div class="c" style="left:2332px;top:1241px;width:288px;background:#fff">
<div class="t" style="left:6.04px;top:16.64px"><span class="r">18</span><span class="w" style="margin-left:3.3px">Fr</span></div>
</div>
<div class="c" style="left:2332px;top:1304px;width:288px;background:#e8e0f4">
<div class="t" style="left:6.04px;top:16.64px"><span class="r">19</span><span class="w" style="margin-left:3.3px">Sa</span></div>
</div>
<div class="c" style="left:2332px;top:1367px;width:288px;background:#e8e0f4">
<div class="t" style="left:6.04px;top:16.64px"><span class="r">20</span><span class="w" style="margin-left:3.3px">So</span></div>
</div>
<div class="c" style="left:2332px;top:1430px;width:288px;background:#fff">
<div class="t" style="left:6.04px;top:16.64px"><span class="r">21</span><span class="w" style="margin-left:3.3px">Mo</span></div>
<div class="k" style="right:4.09px;top:12.9px">39</div>
</div>
<div class="c" style="left:2332px;top:1493px;width:288px;background:#fff">
<div class="t" style="left:6.04px;top:16.64px"><span class="r">22</span><span class="w" style="margin-left:3.3px">Di</span></div>
</div>
<div class="c" style="left:2332px;top:1556px;width:288px;background:#fff">
<div class="t" style="left:6.04px;top:16.64px"><span class="r">23</span><span class="w" style="margin-left:3.3px">Mi</span></div>
</div>
<div class="c" style="left:2332px;top:1619px;width:288px;background:#fff">
<div class="t" style="left:6.04px;top:16.64px"><span class="r">24</span><span class="w" style="margin-left:3.3px">Do</span></div>
</div>
<div class="c" style="left:2332px;top:1682px;width:288px;background:#fff">
<div class="t" style="left:6.04px;top:16.64px"><span class="r">25</span><span class="w" style="margin-left:3.3px">Fr</span></div>
</div>
<div class="c" style="left:2332px;top:1745px;width:288px;background:#e8e0f4">
<div class="t" style="left:6.04px;top:16.64px"><span class="r">26</span><span class="w" style="margin-left:3.3px">Sa</span></div>
</div>
<div class="c" style="left:2332px;top:1808px;width:288px;background:#e8e0f4">
<div class="t" style="left:6.04px;top:16.64px"><span class="r">27</span><span class="w" style="margin-left:3.3px">So</span></div>
</div>
<div class="c" style="left:2332px;top:1871px;width:288px;background:#fff">
<div class="t" style="left:6.04px;top:16.64px"><span class="r">28</span><span class="w" style="margin-left:3.3px">Mo</span></div>
<div class="k" style="right:4.09px;top:12.9px">40</div>
</div>
<div class="c" style="left:2332px;top:1934px;width:288px;background:#fff">
<div class="t" style="left:6.04px;top:16.64px"><span class="r">29</span><span class="w" style="margin-left:3.3px">Di</span></div>
</div>
<div class="c" style="left:2332px;top:1997px;width:288px;background:#fff">
<div class="t" style="left:6.04px;top:16.64px"><span class="r">30</span><span class="w" style="margin-left:3.3px">Mi</span></div>
</div>
<div class="c" style="left:2332px;top:2060px;width:288px;background:#fff">
</div>
<div class="m" style="left:2621px;width:288px;top:139.19px">Oktober</div>
<div class="c" style="left:2621px;top:170px;width:288px;background:#fff">
<div class="t" style="left:5.9px;top:16.64px"><span class="r">1</span><span class="w" style="margin-left:3.3px">Do</span></div>
</div>
<div class="c" style="left:2621px;top:233px;width:288px;background:#fff">
<div class="t" style="left:5.9px;top:16.64px"><span class="r">2</span><span class="w" style="margin-left:3.3px">Fr</span></div>
</div>
<div class="c" style="left:2621px;top:296px;width:288px;background:#e8e0f4">
<div class="t" style="left:5.9px;top:16.64px"><span class="r">3</span><span class="w" style="margin-left:3.3px">Sa</span></div>
</div>
<div class="c" style="left:2621px;top:359px;width:288px;background:#e8e0f4">
<div class="t" style="left:5.9px;top:16.64px"><span class="r">4</span><span class="w" style="margin-left:3.3px">So</span></div>
</div>
<div class="c" style="left:2621px;top:422px;width:288px;background:#fff">
<div class="t" style="left:5.9px;top:16.64px"><span class="r">5</span><span class="w" style="margin-left:3.3px">Mo</span></div>
<div class="k" style="right:4.23px;top:12.9px">41</div>
</div>
<div class="c" style="left:2621px;top:485px;width:288px;background:#fff">
<div class="t" style="left:5.9px;top:16.64px"><span class="r">6</span><span class="w" style="margin-left:3.3px">Di</span></div>
</div>
<div class="c" style="left:2621px;top:548px;width:288px;background:#fff">
<div class="t" style="left:5.9px;top:16.64px"><span class="r">7</span><span class="w" style="margin-left:3.3px">Mi</span></div>
</div>
<div class="c" style="left:2621px;top:611px;width:288px;background:#fff">
<div class="t" style="left:5.9px;top:16.64px"><span class="r">8</span><span class="w" style="margin-left:3.3px">Do</span></div>
</div>
<div class="c" style="left:2621px;top:674px;width:288px;background:#fff">
<div class="t" style="left:5.9px;top:16.64px"><span class="r">9</span><span class="w" style="margin-left:3.3px">Fr</span></div>
</div>
<div class="c" style="left:2621px;top:737px;width:288px;background:#e8e0f4">
<div class="t" style="left:5.9px;top:16.64px"><span class="r">10</span><span class="w" style="margin-left:3.3px">Sa</span></div>
</div>
<div class="c" style="left:2621px;top:800px;width:288px;background:#e8e0f4">
<div class="t" style="left:5.9px;top:16.64px"><span class="r">11</span><span class="w" style="margin-left:3.3px">So</span></div>
</div>
<div class="c" style="left:2621px;top:863px;width:288px;background:#fff">
<div class="t" style="left:5.9px;top:16.64px"><span class="r">12</span><span class="w" style="margin-left:3.3px">Mo</span></div>
<div class="k" style="right:4.23px;top:12.9px">42</div>
</div>
<div class="c" style="left:2621px;top:926px;width:288px;background:#fff">
<div class="t" style="left:5.9px;top:16.64px"><span class="r">13</span><span class="w" style="margin-left:3.3px">Di</span></div>
</div>
<div class="c" style="left:2621px;top:989px;width:288px;background:#fff">
<div class="t" style="left:5.9px;top:16.64px"><span class="r">14</span><span class="w" style="margin-left:3.3px">Mi</span></div>
</div>
<div class="c" style="left:2621px;top:1052px;width:288px;background:#fff">
<div class="t" style="left:5.9px;top:16.64px"><span class="r">15</span><span class="w" style="margin-left:3.3px">Do</span></div>
</div>
<div class="c" style="left:2621px;top:1115px;width:288px;background:#fff">
<div class="t" style="left:5.9px;top:16.64px"><span class="r">16</span><span class="w" style="margin-left:3.3px">Fr</span></div>
</div>
<div class="c" style="left:2621px;top:1178px;width:288px;background:#e8e0f4">
<div class="t" style="left:5.9px;top:16.64px"><span class="r">17</span><span class="w" style="margin-left:3.3px">Sa</span></div>
</div>
<div class="c" style="left:2621px;top:1241px;width:288px;background:#e8e0f4">
<div class="t" style="left:5.9px;top:16.64px"><span class="r">18</span><span class="w" style="margin-left:3.3px">So</span></div>
</div>
<div class="c" style="left:2621px;top:1304px;width:288px;background:#fff">
<div class="t" style="left:5.9px;top:16.64px"><span class="r">19</span><span class="w" style="margin-left:3.3px">Mo</span></div>
<div class="k" style="right:4.23px;top:12.9px">43</div>
</div>
<div class="c" style="left:2621px;top:1367px;width:288px;background:#fff">
<div class="t" style="left:5.9px;top:16.64px"><span class="r">20</span><span class="w" style="margin-left:3.3px">Di</span></div>
</div>
<div class="c" style="left:2621px;top:1430px;width:288px;background:#fff">
<div class="t" style="left:5.9px;top:16.64px"><span class="r">21</span><span class="w" style="margin-left:3.3px">Mi</span></div>
</div>
<div class="c" style="left:2621px;top:1493px;width:288px;background:#fff">
<div class="t" style="left:5.9px;top:16.64px"><span class="r">22</span><span class="w" style="margin-left:3.3px">Do</span></div>
</div>
<div class="c" style="left:2621px;top:1556px;width:288px;background:#fff">
<div class="t" style="left:5.9px;top:16.64px"><span class="r">23</span><span class="w" style="margin-left:3.3px">Fr</span></div>
</div>
<div class="c" style="left:2621px;top:1619px;width:288px;background:#e8e0f4">
<div class="t" style="left:5.9px;top:16.64px"><span class="r">24</span><span class="w" style="margin-left:3.3px">Sa</span></div>
</div>
<div class="c" style="left:2621px;top:1682px;width:288px;background:#e8e0f4">
<div class="t" style="left:5.9px;top:16.64px"><span class="r">25</span><span class="w" style="margin-left:3.3px">So</span></div>
</div>
<div class="c" style="left:2621px;top:1745px;width:288px;background:#fff">
<div class="t" style="left:5.9px;top:16.64px"><span class="r">26</span><span class="w" style="margin-left:3.3px">Mo</span></div>
<div class="k" style="right:4.23px;top:12.9px">44</div>
</div>
<div class="c" style="left:2621px;top:1808px;width:288px;background:#fff">
<div class="t" style="left:5.9px;top:16.64px"><span class="r">27</span><span class="w" style="margin-left:3.3px">Di</span></div>
</div>
<div class="c" style="left:2621px;top:1871px;width:288px;background:#fff">
<div class="t" style="left:5.9px;top:16.64px"><span class="r">28</span><span class="w" style="margin-left:3.3px">Mi</span></div>
</div>
<div class="c" style="left:2621px;top:1934px;width:288px;background:#fff">
<div class="t" style="left:5.9px;top:16.64px"><span class="r">29</span><span class="w" style="margin-left:3.3px">Do</span></div>
</div>
<div class="c" style="left:2621px;top:1997px;width:288px;background:#fff">
<div class="t" style="left:5.9px;top:16.64px"><span class="r">30</span><span class="w" style="margin-left:3.3px">Fr</span></div>
</div>
<div class="c" style="left:2621px;top:2060px;width:288px;background:#e8e0f4">
<div class="t" style="left:5.9px;top:16.64px"><span class="r">31</span><span class="w" style="margin-left:3.3px">Sa</span></div>
</div>
<div class="m" style="left:2910px;width:288px;top:139.19px">November</div>
<div class="c" style="left:2910px;top:170px;width:288px;background:#fdb36b">
<div class="t h" style="left:6.76px;top:17.44px"><span class="r">1</span><span class="w" style="margin-left:5px">So</span><span class="hn" style="margin-left:7.5px">Allerheiligen</span></div>
</div>
<div class="c" style="left:2910px;top:233px;width:288px;background:#fdd5a5">
<div class="t" style="left:5.76px;top:16.64px"><span class="r">2</span><span class="w" style="margin-left:3.3px">Mo</span></div>
<div class="k" style="right:4.37px;top:12.9px">45</div>
</div>
<div class="c" style="left:2910px;top:296px;width:288px;background:#fdd5a5">
<div class="t" style="left:5.76px;top:16.64px"><span class="r">3</span><span class="w" style="margin-left:3.3px">Di</span></div>
</div>
<div class="c" style="left:2910px;top:359px;width:288px;background:#fff">
<div class="t" style="left:5.76px;top:16.64px"><span class="r">4</span><span class="w" style="margin-left:3.3px">Mi</span></div>
</div>
<div class="c" style="left:2910px;top:422px;width:288px;background:#fff">
<div class="t" style="left:5.76px;top:16.64px"><span class="r">5</span><span class="w" style="margin-left:3.3px">Do</span></div>
</div>
<div class="c" style="left:2910px;top:485px;width:288px;background:#fff">
<div class="t" style="left:5.76px;top:16.64px"><span class="r">6</span><span class="w" style="margin-left:3.3px">Fr</span></div>
</div>
<div class="c" style="left:2910px;top:548px;width:288px;background:#e8e0f4">
<div class="t" style="left:5.76px;top:16.64px"><span class="r">7</span><span class="w" style="margin-left:3.3px">Sa</span></div>
</div>
<div class="c" style="left:2910px;top:611px;width:288px;background:#e8e0f4">
<div class="t" style="left:5.76px;top:16.64px"><span class="r">8</span><span class="w" style="margin-left:3.3px">So</span></div>
</div>
<div class="c" style="left:2910px;top:674px;width:288px;background:#fff">
<div class="t" style="left:5.76px;top:16.64px"><span class="r">9</span><span class="w" style="margin-left:3.3px">Mo</span></div>
<div class="k" style="right:4.37px;top:12.9px">46</div>
</div>
<div class="c" style="left:2910px;top:737px;width:288px;background:#fff">
<div class="t" style="left:5.76px;top:16.64px"><span class="r">10</span><span class="w" style="margin-left:3.3px">Di</span></div>
</div>
<div class="c" style="left:2910px;top:800px;width:288px;background:#fff">
<div class="t" style="left:5.76px;top:16.64px"><span class="r">11</span><span class="w" style="margin-left:3.3px">Mi</span></div>
</div>
<div class="c" style="left:2910px;top:863px;width:288px;background:#fff">
<div class="t" style="left:5.76px;top:16.64px"><span class="r">12</span><span class="w" style="margin-left:3.3px">Do</span></div>
</div>
<div class="c" style="left:2910px;top:926px;width:288px;background:#fff">
<div class="t" style="left:5.76px;top:16.64px"><span class="r">13</span><span class="w" style="margin-left:3.3px">Fr</span></div>
</div>
<div class="c" style="left:2910px;top:989px;width:288px;background:#e8e0f4">
<div class="t" style="left:5.76px;top:16.64px"><span class="r">14</span><span class="w" style="margin-left:3.3px">Sa</span></div>
</div>
<div class="c" style="left:2910px;top:1052px;width:288px;background:#e8e0f4">
<div class="t" style="left:5.76px;top:16.64px"><span class="r">15</span><span class="w" style="margin-left:3.3px">So</span></div>
</div>
<div class="c" style="left:2910px;top:1115px;width:288px;background:#fff">
<div class="t" style="left:5.76px;top:16.64px"><span class="r">16</span><span class="w" style="margin-left:3.3px">Mo</span></div>
<div class="k" style="right:4.37px;top:12.9px">47</div>
</div>
<div class="c" style="left:2910px;top:1178px;width:288px;background:#fff">
<div class="t" style="left:5.76px;top:16.64px"><span class="r">17</span><span class="w" style="margin-left:3.3px">Di</span></div>
</div>
<div class="c" style="left:2910px;top:1241px;width:288px;background:#fff">
<div class="t" style="left:5.76px;top:16.64px"><span class="r">18</span><span class="w" style="margin-left:3.3px">Mi</span></div>
</div>
<div class="c" style="left:2910px;top:1304px;width:288px;background:#fff">
<div class="t" style="left:5.76px;top:16.64px"><span class="r">19</span><span class="w" style="margin-left:3.3px">Do</span></div>
</div>
<div class="c" style="left:2910px;top:1367px;width:288px;background:#fff">
<div class="t" style="left:5.76px;top:16.64px"><span class="r">20</span><span class="w" style="margin-left:3.3px">Fr</span></div>
</div>
<div class="c" style="left:2910px;top:1430px;width:288px;background:#e8e0f4">
<div class="t" style="left:5.76px;top:16.64px"><span class="r">21</span><span class="w" style="margin-left:3.3px">Sa</span></div>
</div>
<div class="c" style="left:2910px;top:1493px;width:288px;background:#e8e0f4">
<div class="t" style="left:5.76px;top:16.64px"><span class="r">22</span><span class="w" style="margin-left:3.3px">So</span></div>
</div>
<div class="c" style="left:2910px;top:1556px;width:288px;background:#fff">
<div class="t" style="left:5.76px;top:16.64px"><span class="r">23</span><span class="w" style="margin-left:3.3px">Mo</span></div>
<div class="k" style="right:4.37px;top:12.9px">48</div>
</div>
<div class="c" style="left:2910px;top:1619px;width:288px;background:#fff">
<div class="t" style="left:5.76px;top:16.64px"><span class="r">24</span><span class="w" style="margin-left:3.3px">Di</span></div>
</div>
<div class="c" style="left:2910px;top:1682px;width:288px;background:#fff">
<div class="t" style="left:5.76px;top:16.64px"><span class="r">25</span><span class="w" style="margin-left:3.3px">Mi</span></div>
</div>
<div class="c" style="left:2910px;top:1745px;width:288px;background:#fff">
<div class="t" style="left:5.76px;top:16.64px"><span class="r">26</span><span class="w" style="margin-left:3.3px">Do</span></div>
</div>
<div class="c" style="left:2910px;top:1808px;width:288px;background:#fff">
<div class="t" style="left:5.76px;top:16.64px"><span class="r">27</span><span class="w" style="margin-left:3.3px">Fr</span></div>
</div>
<div class="c" style="left:2910px;top:1871px;width:288px;background:#e8e0f4">
<div class="t" style="left:5.76px;top:16.64px"><span class="r">28</span><span class="w" style="margin-left:3.3px">Sa</span></div>
</div>
<div class="c" style="left:2910px;top:1934px;width:288px;background:#e8e0f4">
<div class="t" style="left:5.76px;top:16.64px"><span class="r">29</span><span class="w" style="margin-left:3.3px">So</span></div>
</div>
<div class="c" style="left:2910px;top:1997px;width:288px;background:#fff">
<div class="t" style="left:5.76px;top:16.64px"><span class="r">30</span><span class="w" style="margin-left:3.3px">Mo</span></div>
<div class="k" style="right:4.37px;top:12.9px">49</div>
</div>
<div class="c" style="left:2910px;top:2060px;width:288px;background:#fff">
</div>
<div class="m" style="left:3199px;width:287px;top:139.19px">Dezember</div>
<div class="c" style="left:3199px;top:170px;width:287px;background:#fff">
<div class="t" style="left:5.62px;top:16.64px"><span class="r">1</span><span class="w" style="margin-left:3.3px">Di</span></div>
</div>
<div class="c" style="left:3199px;top:233px;width:287px;background:#fff">
<div class="t" style="left:5.62px;top:16.64px"><span class="r">2</span><span class="w" style="margin-left:3.3px">Mi</span></div>
</div>
<div class="c" style="left:3199px;top:296px;width:287px;background:#fff">
<div class="t" style="left:5.62px;top:16.64px"><span class="r">3</span><span class="w" style="margin-left:3.3px">Do</span></div>
</div>
<div class="c" style="left:3199px;top:359px;width:287px;background:#fff">
<div class="t" style="left:5.62px;top:16.64px"><span class="r">4</span><span class="w" style="margin-left:3.3px">Fr</span></div>
</div>
<div class="c" style="left:3199px;top:422px;width:287px;background:#e8e0f4">
<div class="t" style="left:5.62px;top:16.64px"><span class="r">5</span><span class="w" style="margin-left:3.3px">Sa</span></div>
</div>
<div class="c" style="left:3199px;top:485px;width:287px;background:#e8e0f4">
<div class="t" style="left:5.62px;top:16.64px"><span class="r">6</span><span class="w" style="margin-left:3.3px">So</span></div>
</div>
<div class="c" style="left:3199px;top:548px;width:287px;background:#fff">
<div class="t" style="left:5.62px;top:16.64px"><span class="r">7</span><span class="w" style="margin-left:3.3px">Mo</span></div>
<div class="k" style="right:3.51px;top:12.9px">50</div>
</div>
<div class="c" style="left:3199px;top:611px;width:287px;background:#fff">
<div class="t h" style="left:6.62px;top:17.44px"><span class="r">8</span><span class="w" style="margin-left:5px">Di</span><span class="hn" style="margin-left:7.5px">Mariä Empfängnis</span></div>
</div>
<div class="c" style="left:3199px;top:674px;width:287px;background:#fff">
<div class="t" style="left:5.62px;top:16.64px"><span class="r">9</span><span class="w" style="margin-left:3.3px">Mi</span></div>
</div>
<div class="c" style="left:3199px;top:737px;width:287px;background:#fff">
<div class="t" style="left:5.62px;top:16.64px"><span class="r">10</span><span class="w" style="margin-left:3.3px">Do</span></div>
</div>
<div class="c" style="left:3199px;top:800px;width:287px;background:#fff">
<div class="t" style="left:5.62px;top:16.64px"><span class="r">11</span><span class="w" style="margin-left:3.3px">Fr</span></div>
</div>
<div class="c" style="left:3199px;top:863px;width:287px;background:#e8e0f4">
<div class="t" style="left:5.62px;top:16.64px"><span class="r">12</span><span class="w" style="margin-left:3.3px">Sa</span></div>
</div>
<div class="c" style="left:3199px;top:926px;width:287px;background:#e8e0f4">
<div class="t" style="left:5.62px;top:16.64px"><span class="r">13</span><span class="w" style="margin-left:3.3px">So</span></div>
</div>
<div class="c" style="left:3199px;top:989px;width:287px;background:#fff">
<div class="t" style="left:5.62px;top:16.64px"><span class="r">14</span><span class="w" style="margin-left:3.3px">Mo</span></div>
<div class="k" style="right:3.51px;top:12.9px">51</div>
</div>
<div class="c" style="left:3199px;top:1052px;width:287px;background:#fff">
<div class="t" style="left:5.62px;top:16.64px"><span class="r">15</span><span class="w" style="margin-left:3.3px">Di</span></div>
</div>
<div class="c" style="left:3199px;top:1115px;width:287px;background:#fff">
<div class="t" style="left:5.62px;top:16.64px"><span class="r">16</span><span class="w" style="margin-left:3.3px">Mi</span></div>
</div>
<div class="c" style="left:3199px;top:1178px;width:287px;background:#fff">
<div class="t" style="left:5.62px;top:16.64px"><span class="r">17</span><span class="w" style="margin-left:3.3px">Do</span></div>
</div>
<div class="c" style="left:3199px;top:1241px;width:287px;background:#fff">
<div class="t" style="left:5.62px;top:16.64px"><span class="r">18</span><span class="w" style="margin-left:3.3px">Fr</span></div>
</div>
<div class="c" style="left:3199px;top:1304px;width:287px;background:#e8e0f4">
<div class="t" style="left:5.62px;top:16.64px"><span class="r">19</span><span class="w" style="margin-left:3.3px">Sa</span></div>
</div>
<div class="c" style="left:3199px;top:1367px;width:287px;background:#e8e0f4">
<div class="t" style="left:5.62px;top:16.64px"><span class="r">20</span><span class="w" style="margin-left:3.3px">So</span></div>
</div>
<div class="c" style="left:3199px;top:1430px;width:287px;background:#fff">
<div class="t" style="left:5.62px;top:16.64px"><span class="r">21</span><span class="w" style="margin-left:3.3px">Mo</span></div>
<div class="k" style="right:3.51px;top:12.9px">52</div>
</div>
<div class="c" style="left:3199px;top:1493px;width:287px;background:#fff">
<div class="t" style="left:5.62px;top:16.64px"><span class="r">22</span><span class="w" style="margin-left:3.3px">Di</span></div>
</div>
<div class="c" style="left:3199px;top:1556px;width:287px;background:#fff">
<div class="t" style="left:5.62px;top:16.64px"><span class="r">23</span><span class="w" style="margin-left:3.3px">Mi</span></div>
</div>
<div class="c" style="left:3199px;top:1619px;width:287px;background:#fdd5a5">
<div class="t" style="left:5.62px;top:16.64px"><span class="r">24</span><span class="w" style="margin-left:3.3px">Do</span></div>
</div>
<div class="c" style="left:3199px;top:1682px;width:287px;background:#fdd5a5">
<div class="t h" style="left:6.62px;top:17.44px"><span class="r">25</span><span class="w" style="margin-left:5px">Fr</span><span class="hn" style="margin-left:7.5px">Weihnachten</span></div>
</div>
<div class="c" style="left:3199px;top:1745px;width:287px;background:#fdb36b">
<div class="t h" style="left:6.62px;top:17.44px"><span class="r">26</span><span class="w" style="margin-left:5px">Sa</span><span class="hn" style="margin-left:7.5px">Stephanstag</span></div>
</div>
<div class="c" style="left:3199px;top:1808px;width:287px;background:#fdb36b">
<div class="t" style="left:5.62px;top:16.64px"><span class="r">27</span><span class="w" style="margin-left:3.3px">So</span></div>
</div>
<div class="c" style="left:3199px;top:1871px;width:287px;background:#fdd5a5">
<div class="t" style="left:5.62px;top:16.64px"><span class="r">28</span><span class="w" style="margin-left:3.3px">Mo</span></div>
<div class="k" style="right:3.51px;top:12.9px">53</div>
</div>
<div class="c" style="left:3199px;top:1934px;width:287px;background:#fdd5a5">
<div class="t" style="left:5.62px;top:16.64px"><span class="r">29</span><span class="w" style="margin-left:3.3px">Di</span></div>
</div>
<div class="c" style="left:3199px;top:1997px;width:287px;background:#fdd5a5">
<div class="t" style="left:5.62px;top:16.64px"><span class="r">30</span><span class="w" style="margin-left:3.3px">Mi</span></div>
</div>
<div class="c" style="left:3199px;top:2060px;width:287px;background:#fdd5a5">
<div class="t" style="left:5.62px;top:16.64px"><span class="r">31</span><span class="w" style="margin-left:3.3px">Do</span></div>
</div>
<div class="lg"></div>
<div class="cd" style="left:52px;top:2161px"><div class="dt" style="top:26.78px"><b>01.01.2026</b><i>Neujahrstag</i></div><div class="bw" style="top:56.76px">Bundesweit</div></div>
<div class="cd" style="left:908px;top:2161px"><div class="dt" style="top:26.78px"><b>06.01.2026</b><i>Heilige Drei Könige</i></div><div class="bw" style="top:56.76px">Bundesweit</div></div>
<div class="cd" style="left:1763px;top:2161px"><div class="dt" style="top:26.78px"><b>05.04.2026</b><i>Ostersonntag</i></div><div class="bw" style="top:56.76px">Bundesweit</div></div>
<div class="cd" style="left:2619px;top:2161px"><div class="dt" style="top:26.78px"><b>06.04.2026</b><i>Ostermontag</i></div><div class="bw" style="top:56.76px">Bundesweit</div></div>
<div class="cd" style="left:52px;top:2259px"><div class="dt" style="top:26.78px"><b>25.04.2026</b><i>Tag der Befreiung Italiens</i></div><div class="bw" style="top:56.76px">Bundesweit</div></div>
<div class="cd" style="left:908px;top:2259px"><div class="dt" style="top:26.78px"><b>01.05.2026</b><i>Tag der Arbeit</i></div><div class="bw" style="top:56.76px">Bundesweit</div></div>
<div class="cd" style="left:1763px;top:2259px"><div class="dt" style="top:26.78px"><b>02.06.2026</b><i>Tag der Republik Italien</i></div><div class="bw" style="top:56.76px">Bundesweit</div></div>
<div class="cd" style="left:2619px;top:2259px"><div class="dt" style="top:26.78px"><b>15.08.2026</b><i>Mariä Himmelfahrt</i></div><div class="bw" style="top:56.76px">Bundesweit</div></div>
<div class="cd" style="left:52px;top:2358px"><div class="dt" style="top:26.78px"><b>01.11.2026</b><i>Allerheiligen</i></div><div class="bw" style="top:56.76px">Bundesweit</div></div>
<div class="cd" style="left:908px;top:2358px"><div class="dt" style="top:26.78px"><b>08.12.2026</b><i>Mariä Empfängnis</i></div><div class="bw" style="top:56.76px">Bundesweit</div></div>
<div class="cd" style="left:1763px;top:2358px"><div class="dt" style="top:26.78px"><b>25.12.2026</b><i>Weihnachten</i></div><div class="bw" style="top:56.76px">Bundesweit</div></div>
<div class="cd" style="left:2619px;top:2358px"><div class="dt" style="top:26.78px"><b>26.12.2026</b><i>Stephanstag</i></div><div class="bw" style="top:56.76px">Bundesweit</div></div>
<div class="a" style="left:3507px;top:0;width:1px;height:2480px;background:#000"></div>
<div class="a" style="left:0;top:2479px;width:3508px;height:1px;background:#000"></div>
</body></html>
